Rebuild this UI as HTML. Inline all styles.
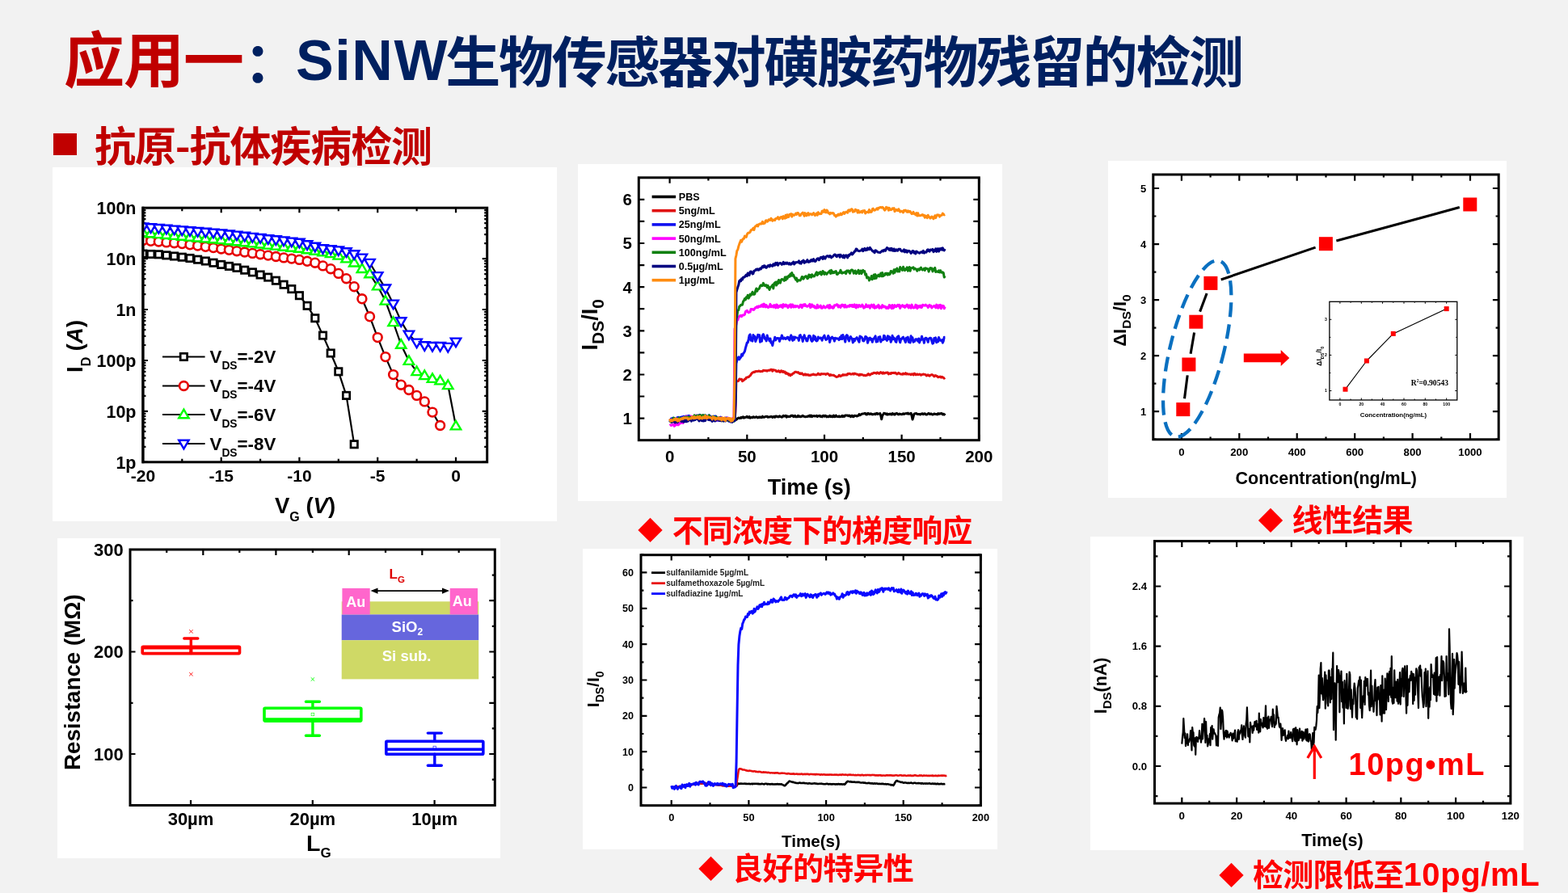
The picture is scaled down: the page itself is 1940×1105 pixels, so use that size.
<!DOCTYPE html>
<html><head><meta charset="utf-8">
<style>
html,body{margin:0;padding:0;}
body{width:1940px;height:1105px;background:#f2f2f2;position:relative;overflow:hidden;}
.t{position:absolute;white-space:nowrap;font-family:"Liberation Sans","Noto Sans CJK SC",sans-serif;font-weight:bold;line-height:1;}
.c{font-family:"Noto Sans CJK SC",sans-serif;}
.r{color:#ff0000;}
svg{position:absolute;left:0;top:0;}
svg text{font-family:"Liberation Sans","Noto Sans CJK SC",sans-serif;font-weight:bold;}
</style></head>
<body>
<svg width="1940" height="1105" viewBox="0 0 1940 1105">
<rect x="65" y="207" width="624" height="438" fill="#fff"/>
<rect x="715" y="203" width="525" height="417" fill="#fff"/>
<rect x="1371" y="199" width="493" height="417" fill="#fff"/>
<rect x="71" y="666" width="548" height="396" fill="#fff"/>
<rect x="721" y="679" width="513" height="372" fill="#fff"/>
<rect x="1349" y="664" width="536" height="388" fill="#fff"/>
<defs><clipPath id="c1"><rect x="177" y="250" width="433" height="330"/></clipPath></defs>
<path d="M176.9,257.2v6M176.9,571.8v-6M225.3,257.2v4M225.3,571.8v-4M273.7,257.2v6M273.7,571.8v-6M322.1,257.2v4M322.1,571.8v-4M370.4,257.2v6M370.4,571.8v-6M418.8,257.2v4M418.8,571.8v-4M467.2,257.2v6M467.2,571.8v-6M515.6,257.2v4M515.6,571.8v-4M564,257.2v6M564,571.8v-6M176.9,320.1h6M602.7,320.1h-6M176.9,301.2h3.5M602.7,301.2h-3.5M176.9,290.1h3.5M602.7,290.1h-3.5M176.9,282.2h3.5M602.7,282.2h-3.5M176.9,276.1h3.5M602.7,276.1h-3.5M176.9,271.2h3.5M602.7,271.2h-3.5M176.9,266.9h3.5M602.7,266.9h-3.5M176.9,263.3h3.5M602.7,263.3h-3.5M176.9,260.1h3.5M602.7,260.1h-3.5M176.9,383h6M602.7,383h-6M176.9,364.1h3.5M602.7,364.1h-3.5M176.9,353h3.5M602.7,353h-3.5M176.9,345.2h3.5M602.7,345.2h-3.5M176.9,339.1h3.5M602.7,339.1h-3.5M176.9,334.1h3.5M602.7,334.1h-3.5M176.9,329.9h3.5M602.7,329.9h-3.5M176.9,326.2h3.5M602.7,326.2h-3.5M176.9,323h3.5M602.7,323h-3.5M176.9,446h6M602.7,446h-6M176.9,427h3.5M602.7,427h-3.5M176.9,415.9h3.5M602.7,415.9h-3.5M176.9,408.1h3.5M602.7,408.1h-3.5M176.9,402h3.5M602.7,402h-3.5M176.9,397h3.5M602.7,397h-3.5M176.9,392.8h3.5M602.7,392.8h-3.5M176.9,389.1h3.5M602.7,389.1h-3.5M176.9,385.9h3.5M602.7,385.9h-3.5M176.9,508.9h6M602.7,508.9h-6M176.9,489.9h3.5M602.7,489.9h-3.5M176.9,478.9h3.5M602.7,478.9h-3.5M176.9,471h3.5M602.7,471h-3.5M176.9,464.9h3.5M602.7,464.9h-3.5M176.9,459.9h3.5M602.7,459.9h-3.5M176.9,455.7h3.5M602.7,455.7h-3.5M176.9,452.1h3.5M602.7,452.1h-3.5M176.9,448.8h3.5M602.7,448.8h-3.5M176.9,571.8h6M602.7,571.8h-6M176.9,552.9h3.5M602.7,552.9h-3.5M176.9,541.8h3.5M602.7,541.8h-3.5M176.9,533.9h3.5M602.7,533.9h-3.5M176.9,527.8h3.5M602.7,527.8h-3.5M176.9,522.8h3.5M602.7,522.8h-3.5M176.9,518.6h3.5M602.7,518.6h-3.5M176.9,515h3.5M602.7,515h-3.5M176.9,511.8h3.5M602.7,511.8h-3.5" stroke="#000" stroke-width="2.2" fill="none"/>
<rect x="176.9" y="257.2" width="425.8" height="314.6" fill="none" stroke="#000" stroke-width="3"/>
<text x="168.5" y="264.9" font-size="21.5" text-anchor="end" >100n</text>
<text x="168.5" y="327.8" font-size="21.5" text-anchor="end" >10n</text>
<text x="168.5" y="390.7" font-size="21.5" text-anchor="end" >1n</text>
<text x="168.5" y="453.7" font-size="21.5" text-anchor="end" >100p</text>
<text x="168.5" y="516.6" font-size="21.5" text-anchor="end" >10p</text>
<text x="168.5" y="579.5" font-size="21.5" text-anchor="end" >1p</text>
<text x="176.9" y="595.5" font-size="21" text-anchor="middle" >-20</text>
<text x="273.7" y="595.5" font-size="21" text-anchor="middle" >-15</text>
<text x="370.4" y="595.5" font-size="21" text-anchor="middle" >-10</text>
<text x="467.2" y="595.5" font-size="21" text-anchor="middle" >-5</text>
<text x="564" y="595.5" font-size="21" text-anchor="middle" >0</text>
<text x="340" y="634.7" font-size="27.5">V<tspan font-size="16" dy="10">G</tspan><tspan dy="-10"> (</tspan><tspan font-style="italic">V</tspan>)</text>
<text transform="translate(102,461) rotate(-90)" font-size="27.5">I<tspan font-size="16" dy="10">D</tspan><tspan dy="-10"> (</tspan><tspan font-style="italic">A</tspan>)</text>
<g clip-path="url(#c1)">
<polyline points="176.9,314.1 186.6,314.5 196.3,314.8 205.9,315.9 215.6,317 225.3,318.2 235,319.5 244.6,321.2 254.3,323 264,325.2 273.7,327.4 283.4,329.4 293,331.4 302.7,334.2 312.4,336.9 322.1,340 331.7,343.1 341.4,347.2 351.1,352.2 360.8,357.6 370.4,365.7 380.1,378.3 389.8,393.7 399.5,415.1 409.2,437 418.8,459.8 428.5,489.4 438.2,549.8" fill="none" stroke="#000" stroke-width="2.2" stroke-linejoin="round" />
<rect x="172.7" y="309.9" width="8.4" height="8.4" fill="#fff" stroke="#000" stroke-width="2.7"/>
<rect x="182.4" y="310.3" width="8.4" height="8.4" fill="#fff" stroke="#000" stroke-width="2.7"/>
<rect x="192.1" y="310.6" width="8.4" height="8.4" fill="#fff" stroke="#000" stroke-width="2.7"/>
<rect x="201.7" y="311.7" width="8.4" height="8.4" fill="#fff" stroke="#000" stroke-width="2.7"/>
<rect x="211.4" y="312.8" width="8.4" height="8.4" fill="#fff" stroke="#000" stroke-width="2.7"/>
<rect x="221.1" y="314" width="8.4" height="8.4" fill="#fff" stroke="#000" stroke-width="2.7"/>
<rect x="230.8" y="315.3" width="8.4" height="8.4" fill="#fff" stroke="#000" stroke-width="2.7"/>
<rect x="240.4" y="317" width="8.4" height="8.4" fill="#fff" stroke="#000" stroke-width="2.7"/>
<rect x="250.1" y="318.8" width="8.4" height="8.4" fill="#fff" stroke="#000" stroke-width="2.7"/>
<rect x="259.8" y="321" width="8.4" height="8.4" fill="#fff" stroke="#000" stroke-width="2.7"/>
<rect x="269.5" y="323.2" width="8.4" height="8.4" fill="#fff" stroke="#000" stroke-width="2.7"/>
<rect x="279.2" y="325.2" width="8.4" height="8.4" fill="#fff" stroke="#000" stroke-width="2.7"/>
<rect x="288.8" y="327.2" width="8.4" height="8.4" fill="#fff" stroke="#000" stroke-width="2.7"/>
<rect x="298.5" y="330" width="8.4" height="8.4" fill="#fff" stroke="#000" stroke-width="2.7"/>
<rect x="308.2" y="332.7" width="8.4" height="8.4" fill="#fff" stroke="#000" stroke-width="2.7"/>
<rect x="317.9" y="335.8" width="8.4" height="8.4" fill="#fff" stroke="#000" stroke-width="2.7"/>
<rect x="327.5" y="338.9" width="8.4" height="8.4" fill="#fff" stroke="#000" stroke-width="2.7"/>
<rect x="337.2" y="343" width="8.4" height="8.4" fill="#fff" stroke="#000" stroke-width="2.7"/>
<rect x="346.9" y="348" width="8.4" height="8.4" fill="#fff" stroke="#000" stroke-width="2.7"/>
<rect x="356.6" y="353.4" width="8.4" height="8.4" fill="#fff" stroke="#000" stroke-width="2.7"/>
<rect x="366.2" y="361.5" width="8.4" height="8.4" fill="#fff" stroke="#000" stroke-width="2.7"/>
<rect x="375.9" y="374.1" width="8.4" height="8.4" fill="#fff" stroke="#000" stroke-width="2.7"/>
<rect x="385.6" y="389.5" width="8.4" height="8.4" fill="#fff" stroke="#000" stroke-width="2.7"/>
<rect x="395.3" y="410.9" width="8.4" height="8.4" fill="#fff" stroke="#000" stroke-width="2.7"/>
<rect x="405" y="432.8" width="8.4" height="8.4" fill="#fff" stroke="#000" stroke-width="2.7"/>
<rect x="414.6" y="455.6" width="8.4" height="8.4" fill="#fff" stroke="#000" stroke-width="2.7"/>
<rect x="424.3" y="485.2" width="8.4" height="8.4" fill="#fff" stroke="#000" stroke-width="2.7"/>
<rect x="434" y="545.6" width="8.4" height="8.4" fill="#fff" stroke="#000" stroke-width="2.7"/>
<polyline points="176.9,297.5 186.6,298.3 196.3,299.1 205.9,299.9 215.6,300.7 225.3,301.6 235,302.8 244.6,304.1 254.3,305.3 264,306.6 273.7,308 283.4,309.3 293,310.7 302.7,312 312.4,313.4 322.1,314.7 331.7,316.1 341.4,317.5 351.1,318.9 360.8,320.1 370.4,321.4 380.1,323.3 389.8,325.2 399.5,328.9 409.2,332.7 418.8,338.4 428.5,344.7 438.2,354.7 447.9,369.8 457.5,391.8 467.2,417.6 476.9,441.6 486.6,463.6 496.2,476.2 505.9,482.5 515.6,489.4 525.3,496.9 535,510.1 544.6,526.5" fill="none" stroke="#000" stroke-width="2.2" stroke-linejoin="round" />
<circle cx="176.9" cy="297.5" r="5.4" fill="#fff" stroke="#e60000" stroke-width="2.6"/>
<circle cx="186.6" cy="298.3" r="5.4" fill="#fff" stroke="#e60000" stroke-width="2.6"/>
<circle cx="196.3" cy="299.1" r="5.4" fill="#fff" stroke="#e60000" stroke-width="2.6"/>
<circle cx="205.9" cy="299.9" r="5.4" fill="#fff" stroke="#e60000" stroke-width="2.6"/>
<circle cx="215.6" cy="300.7" r="5.4" fill="#fff" stroke="#e60000" stroke-width="2.6"/>
<circle cx="225.3" cy="301.6" r="5.4" fill="#fff" stroke="#e60000" stroke-width="2.6"/>
<circle cx="235" cy="302.8" r="5.4" fill="#fff" stroke="#e60000" stroke-width="2.6"/>
<circle cx="244.6" cy="304.1" r="5.4" fill="#fff" stroke="#e60000" stroke-width="2.6"/>
<circle cx="254.3" cy="305.3" r="5.4" fill="#fff" stroke="#e60000" stroke-width="2.6"/>
<circle cx="264" cy="306.6" r="5.4" fill="#fff" stroke="#e60000" stroke-width="2.6"/>
<circle cx="273.7" cy="308" r="5.4" fill="#fff" stroke="#e60000" stroke-width="2.6"/>
<circle cx="283.4" cy="309.3" r="5.4" fill="#fff" stroke="#e60000" stroke-width="2.6"/>
<circle cx="293" cy="310.7" r="5.4" fill="#fff" stroke="#e60000" stroke-width="2.6"/>
<circle cx="302.7" cy="312" r="5.4" fill="#fff" stroke="#e60000" stroke-width="2.6"/>
<circle cx="312.4" cy="313.4" r="5.4" fill="#fff" stroke="#e60000" stroke-width="2.6"/>
<circle cx="322.1" cy="314.7" r="5.4" fill="#fff" stroke="#e60000" stroke-width="2.6"/>
<circle cx="331.7" cy="316.1" r="5.4" fill="#fff" stroke="#e60000" stroke-width="2.6"/>
<circle cx="341.4" cy="317.5" r="5.4" fill="#fff" stroke="#e60000" stroke-width="2.6"/>
<circle cx="351.1" cy="318.9" r="5.4" fill="#fff" stroke="#e60000" stroke-width="2.6"/>
<circle cx="360.8" cy="320.1" r="5.4" fill="#fff" stroke="#e60000" stroke-width="2.6"/>
<circle cx="370.4" cy="321.4" r="5.4" fill="#fff" stroke="#e60000" stroke-width="2.6"/>
<circle cx="380.1" cy="323.3" r="5.4" fill="#fff" stroke="#e60000" stroke-width="2.6"/>
<circle cx="389.8" cy="325.2" r="5.4" fill="#fff" stroke="#e60000" stroke-width="2.6"/>
<circle cx="399.5" cy="328.9" r="5.4" fill="#fff" stroke="#e60000" stroke-width="2.6"/>
<circle cx="409.2" cy="332.7" r="5.4" fill="#fff" stroke="#e60000" stroke-width="2.6"/>
<circle cx="418.8" cy="338.4" r="5.4" fill="#fff" stroke="#e60000" stroke-width="2.6"/>
<circle cx="428.5" cy="344.7" r="5.4" fill="#fff" stroke="#e60000" stroke-width="2.6"/>
<circle cx="438.2" cy="354.7" r="5.4" fill="#fff" stroke="#e60000" stroke-width="2.6"/>
<circle cx="447.9" cy="369.8" r="5.4" fill="#fff" stroke="#e60000" stroke-width="2.6"/>
<circle cx="457.5" cy="391.8" r="5.4" fill="#fff" stroke="#e60000" stroke-width="2.6"/>
<circle cx="467.2" cy="417.6" r="5.4" fill="#fff" stroke="#e60000" stroke-width="2.6"/>
<circle cx="476.9" cy="441.6" r="5.4" fill="#fff" stroke="#e60000" stroke-width="2.6"/>
<circle cx="486.6" cy="463.6" r="5.4" fill="#fff" stroke="#e60000" stroke-width="2.6"/>
<circle cx="496.2" cy="476.2" r="5.4" fill="#fff" stroke="#e60000" stroke-width="2.6"/>
<circle cx="505.9" cy="482.5" r="5.4" fill="#fff" stroke="#e60000" stroke-width="2.6"/>
<circle cx="515.6" cy="489.4" r="5.4" fill="#fff" stroke="#e60000" stroke-width="2.6"/>
<circle cx="525.3" cy="496.9" r="5.4" fill="#fff" stroke="#e60000" stroke-width="2.6"/>
<circle cx="535" cy="510.1" r="5.4" fill="#fff" stroke="#e60000" stroke-width="2.6"/>
<circle cx="544.6" cy="526.5" r="5.4" fill="#fff" stroke="#e60000" stroke-width="2.6"/>
<polyline points="176.9,288 186.6,288.9 196.3,289.8 205.9,290.7 215.6,291.6 225.3,292.4 235,293.3 244.6,294.2 254.3,295.1 264,296 273.7,296.8 283.4,297.9 293,299 302.7,300 312.4,301.1 322.1,302.2 331.7,303.3 341.4,304.3 351.1,305.4 360.8,306.5 370.4,307.5 380.1,309 389.8,310.5 399.5,311.9 409.2,313.8 418.8,316.3 428.5,320.1 438.2,325.2 447.9,332.7 457.5,339 467.2,354.1 476.9,372.3 486.6,398.8 496.2,426.5 505.9,446.6 515.6,459.8 525.3,464.8 535,468.6 544.6,471.1 554.3,476.8 564,527.1" fill="none" stroke="#000" stroke-width="2.2" stroke-linejoin="round" />
<path d="M176.9,281.7L183.1,292.3H170.7Z" fill="#fff" stroke="#00ff00" stroke-width="2.4" stroke-linejoin="miter"/>
<path d="M186.6,282.6L192.8,293.2H180.4Z" fill="#fff" stroke="#00ff00" stroke-width="2.4" stroke-linejoin="miter"/>
<path d="M196.3,283.5L202.5,294.1H190.1Z" fill="#fff" stroke="#00ff00" stroke-width="2.4" stroke-linejoin="miter"/>
<path d="M205.9,284.4L212.1,295H199.7Z" fill="#fff" stroke="#00ff00" stroke-width="2.4" stroke-linejoin="miter"/>
<path d="M215.6,285.3L221.8,295.9H209.4Z" fill="#fff" stroke="#00ff00" stroke-width="2.4" stroke-linejoin="miter"/>
<path d="M225.3,286.1L231.5,296.7H219.1Z" fill="#fff" stroke="#00ff00" stroke-width="2.4" stroke-linejoin="miter"/>
<path d="M235,287L241.2,297.6H228.8Z" fill="#fff" stroke="#00ff00" stroke-width="2.4" stroke-linejoin="miter"/>
<path d="M244.6,287.9L250.8,298.5H238.4Z" fill="#fff" stroke="#00ff00" stroke-width="2.4" stroke-linejoin="miter"/>
<path d="M254.3,288.8L260.5,299.4H248.1Z" fill="#fff" stroke="#00ff00" stroke-width="2.4" stroke-linejoin="miter"/>
<path d="M264,289.7L270.2,300.3H257.8Z" fill="#fff" stroke="#00ff00" stroke-width="2.4" stroke-linejoin="miter"/>
<path d="M273.7,290.5L279.9,301.1H267.5Z" fill="#fff" stroke="#00ff00" stroke-width="2.4" stroke-linejoin="miter"/>
<path d="M283.4,291.6L289.6,302.2H277.2Z" fill="#fff" stroke="#00ff00" stroke-width="2.4" stroke-linejoin="miter"/>
<path d="M293,292.7L299.2,303.3H286.8Z" fill="#fff" stroke="#00ff00" stroke-width="2.4" stroke-linejoin="miter"/>
<path d="M302.7,293.7L308.9,304.3H296.5Z" fill="#fff" stroke="#00ff00" stroke-width="2.4" stroke-linejoin="miter"/>
<path d="M312.4,294.8L318.6,305.4H306.2Z" fill="#fff" stroke="#00ff00" stroke-width="2.4" stroke-linejoin="miter"/>
<path d="M322.1,295.9L328.3,306.5H315.9Z" fill="#fff" stroke="#00ff00" stroke-width="2.4" stroke-linejoin="miter"/>
<path d="M331.7,297L337.9,307.6H325.5Z" fill="#fff" stroke="#00ff00" stroke-width="2.4" stroke-linejoin="miter"/>
<path d="M341.4,298L347.6,308.6H335.2Z" fill="#fff" stroke="#00ff00" stroke-width="2.4" stroke-linejoin="miter"/>
<path d="M351.1,299.1L357.3,309.7H344.9Z" fill="#fff" stroke="#00ff00" stroke-width="2.4" stroke-linejoin="miter"/>
<path d="M360.8,300.2L367,310.8H354.6Z" fill="#fff" stroke="#00ff00" stroke-width="2.4" stroke-linejoin="miter"/>
<path d="M370.4,301.2L376.6,311.8H364.2Z" fill="#fff" stroke="#00ff00" stroke-width="2.4" stroke-linejoin="miter"/>
<path d="M380.1,302.7L386.3,313.3H373.9Z" fill="#fff" stroke="#00ff00" stroke-width="2.4" stroke-linejoin="miter"/>
<path d="M389.8,304.2L396,314.8H383.6Z" fill="#fff" stroke="#00ff00" stroke-width="2.4" stroke-linejoin="miter"/>
<path d="M399.5,305.6L405.7,316.2H393.3Z" fill="#fff" stroke="#00ff00" stroke-width="2.4" stroke-linejoin="miter"/>
<path d="M409.2,307.5L415.4,318.1H403Z" fill="#fff" stroke="#00ff00" stroke-width="2.4" stroke-linejoin="miter"/>
<path d="M418.8,310L425,320.6H412.6Z" fill="#fff" stroke="#00ff00" stroke-width="2.4" stroke-linejoin="miter"/>
<path d="M428.5,313.8L434.7,324.4H422.3Z" fill="#fff" stroke="#00ff00" stroke-width="2.4" stroke-linejoin="miter"/>
<path d="M438.2,318.9L444.4,329.5H432Z" fill="#fff" stroke="#00ff00" stroke-width="2.4" stroke-linejoin="miter"/>
<path d="M447.9,326.4L454.1,337H441.7Z" fill="#fff" stroke="#00ff00" stroke-width="2.4" stroke-linejoin="miter"/>
<path d="M457.5,332.7L463.7,343.3H451.3Z" fill="#fff" stroke="#00ff00" stroke-width="2.4" stroke-linejoin="miter"/>
<path d="M467.2,347.8L473.4,358.4H461Z" fill="#fff" stroke="#00ff00" stroke-width="2.4" stroke-linejoin="miter"/>
<path d="M476.9,366L483.1,376.6H470.7Z" fill="#fff" stroke="#00ff00" stroke-width="2.4" stroke-linejoin="miter"/>
<path d="M486.6,392.5L492.8,403.1H480.4Z" fill="#fff" stroke="#00ff00" stroke-width="2.4" stroke-linejoin="miter"/>
<path d="M496.2,420.2L502.4,430.8H490.1Z" fill="#fff" stroke="#00ff00" stroke-width="2.4" stroke-linejoin="miter"/>
<path d="M505.9,440.3L512.1,450.9H499.7Z" fill="#fff" stroke="#00ff00" stroke-width="2.4" stroke-linejoin="miter"/>
<path d="M515.6,453.5L521.8,464.1H509.4Z" fill="#fff" stroke="#00ff00" stroke-width="2.4" stroke-linejoin="miter"/>
<path d="M525.3,458.5L531.5,469.1H519.1Z" fill="#fff" stroke="#00ff00" stroke-width="2.4" stroke-linejoin="miter"/>
<path d="M535,462.3L541.2,472.9H528.8Z" fill="#fff" stroke="#00ff00" stroke-width="2.4" stroke-linejoin="miter"/>
<path d="M544.6,464.8L550.8,475.4H538.4Z" fill="#fff" stroke="#00ff00" stroke-width="2.4" stroke-linejoin="miter"/>
<path d="M554.3,470.5L560.5,481.1H548.1Z" fill="#fff" stroke="#00ff00" stroke-width="2.4" stroke-linejoin="miter"/>
<path d="M564,520.8L570.2,531.4H557.8Z" fill="#fff" stroke="#00ff00" stroke-width="2.4" stroke-linejoin="miter"/>
<polyline points="176.9,280.7 186.6,281.5 196.3,282.3 205.9,283.1 215.6,283.9 225.3,284.7 235,285.5 244.6,286.3 254.3,287.1 264,287.9 273.7,288.7 283.4,289.8 293,290.9 302.7,292.1 312.4,293.2 322.1,294.3 331.7,295.5 341.4,296.6 351.1,297.7 360.8,298.9 370.4,300 380.1,302.5 389.8,305 399.5,307.5 409.2,308.5 418.8,309.7 428.5,311.6 438.2,314.5 447.9,318.9 457.5,325.2 467.2,341.4 476.9,356.8 486.6,375.9 496.2,397.5 505.9,413.9 515.6,423.9 525.3,427.5 535,428.3 544.6,428.3 554.3,429.2 564,422.9" fill="none" stroke="#000" stroke-width="2.2" stroke-linejoin="round" />
<path d="M176.9,287L183.1,276.4H170.7Z" fill="#fff" stroke="#0000ff" stroke-width="2.4" stroke-linejoin="miter"/>
<path d="M186.6,287.8L192.8,277.2H180.4Z" fill="#fff" stroke="#0000ff" stroke-width="2.4" stroke-linejoin="miter"/>
<path d="M196.3,288.6L202.5,278H190.1Z" fill="#fff" stroke="#0000ff" stroke-width="2.4" stroke-linejoin="miter"/>
<path d="M205.9,289.4L212.1,278.8H199.7Z" fill="#fff" stroke="#0000ff" stroke-width="2.4" stroke-linejoin="miter"/>
<path d="M215.6,290.2L221.8,279.6H209.4Z" fill="#fff" stroke="#0000ff" stroke-width="2.4" stroke-linejoin="miter"/>
<path d="M225.3,291L231.5,280.4H219.1Z" fill="#fff" stroke="#0000ff" stroke-width="2.4" stroke-linejoin="miter"/>
<path d="M235,291.8L241.2,281.2H228.8Z" fill="#fff" stroke="#0000ff" stroke-width="2.4" stroke-linejoin="miter"/>
<path d="M244.6,292.6L250.8,282H238.4Z" fill="#fff" stroke="#0000ff" stroke-width="2.4" stroke-linejoin="miter"/>
<path d="M254.3,293.4L260.5,282.8H248.1Z" fill="#fff" stroke="#0000ff" stroke-width="2.4" stroke-linejoin="miter"/>
<path d="M264,294.2L270.2,283.6H257.8Z" fill="#fff" stroke="#0000ff" stroke-width="2.4" stroke-linejoin="miter"/>
<path d="M273.7,295L279.9,284.4H267.5Z" fill="#fff" stroke="#0000ff" stroke-width="2.4" stroke-linejoin="miter"/>
<path d="M283.4,296.1L289.6,285.5H277.2Z" fill="#fff" stroke="#0000ff" stroke-width="2.4" stroke-linejoin="miter"/>
<path d="M293,297.2L299.2,286.6H286.8Z" fill="#fff" stroke="#0000ff" stroke-width="2.4" stroke-linejoin="miter"/>
<path d="M302.7,298.4L308.9,287.8H296.5Z" fill="#fff" stroke="#0000ff" stroke-width="2.4" stroke-linejoin="miter"/>
<path d="M312.4,299.5L318.6,288.9H306.2Z" fill="#fff" stroke="#0000ff" stroke-width="2.4" stroke-linejoin="miter"/>
<path d="M322.1,300.6L328.3,290H315.9Z" fill="#fff" stroke="#0000ff" stroke-width="2.4" stroke-linejoin="miter"/>
<path d="M331.7,301.8L337.9,291.2H325.5Z" fill="#fff" stroke="#0000ff" stroke-width="2.4" stroke-linejoin="miter"/>
<path d="M341.4,302.9L347.6,292.3H335.2Z" fill="#fff" stroke="#0000ff" stroke-width="2.4" stroke-linejoin="miter"/>
<path d="M351.1,304L357.3,293.4H344.9Z" fill="#fff" stroke="#0000ff" stroke-width="2.4" stroke-linejoin="miter"/>
<path d="M360.8,305.2L367,294.6H354.6Z" fill="#fff" stroke="#0000ff" stroke-width="2.4" stroke-linejoin="miter"/>
<path d="M370.4,306.3L376.6,295.7H364.2Z" fill="#fff" stroke="#0000ff" stroke-width="2.4" stroke-linejoin="miter"/>
<path d="M380.1,308.8L386.3,298.2H373.9Z" fill="#fff" stroke="#0000ff" stroke-width="2.4" stroke-linejoin="miter"/>
<path d="M389.8,311.3L396,300.7H383.6Z" fill="#fff" stroke="#0000ff" stroke-width="2.4" stroke-linejoin="miter"/>
<path d="M399.5,313.8L405.7,303.2H393.3Z" fill="#fff" stroke="#0000ff" stroke-width="2.4" stroke-linejoin="miter"/>
<path d="M409.2,314.8L415.4,304.2H403Z" fill="#fff" stroke="#0000ff" stroke-width="2.4" stroke-linejoin="miter"/>
<path d="M418.8,316L425,305.4H412.6Z" fill="#fff" stroke="#0000ff" stroke-width="2.4" stroke-linejoin="miter"/>
<path d="M428.5,317.9L434.7,307.3H422.3Z" fill="#fff" stroke="#0000ff" stroke-width="2.4" stroke-linejoin="miter"/>
<path d="M438.2,320.8L444.4,310.2H432Z" fill="#fff" stroke="#0000ff" stroke-width="2.4" stroke-linejoin="miter"/>
<path d="M447.9,325.2L454.1,314.6H441.7Z" fill="#fff" stroke="#0000ff" stroke-width="2.4" stroke-linejoin="miter"/>
<path d="M457.5,331.5L463.7,320.9H451.3Z" fill="#fff" stroke="#0000ff" stroke-width="2.4" stroke-linejoin="miter"/>
<path d="M467.2,347.7L473.4,337.1H461Z" fill="#fff" stroke="#0000ff" stroke-width="2.4" stroke-linejoin="miter"/>
<path d="M476.9,363.1L483.1,352.5H470.7Z" fill="#fff" stroke="#0000ff" stroke-width="2.4" stroke-linejoin="miter"/>
<path d="M486.6,382.2L492.8,371.6H480.4Z" fill="#fff" stroke="#0000ff" stroke-width="2.4" stroke-linejoin="miter"/>
<path d="M496.2,403.8L502.4,393.2H490.1Z" fill="#fff" stroke="#0000ff" stroke-width="2.4" stroke-linejoin="miter"/>
<path d="M505.9,420.2L512.1,409.6H499.7Z" fill="#fff" stroke="#0000ff" stroke-width="2.4" stroke-linejoin="miter"/>
<path d="M515.6,430.2L521.8,419.6H509.4Z" fill="#fff" stroke="#0000ff" stroke-width="2.4" stroke-linejoin="miter"/>
<path d="M525.3,433.8L531.5,423.2H519.1Z" fill="#fff" stroke="#0000ff" stroke-width="2.4" stroke-linejoin="miter"/>
<path d="M535,434.6L541.2,424H528.8Z" fill="#fff" stroke="#0000ff" stroke-width="2.4" stroke-linejoin="miter"/>
<path d="M544.6,434.6L550.8,424H538.4Z" fill="#fff" stroke="#0000ff" stroke-width="2.4" stroke-linejoin="miter"/>
<path d="M554.3,435.5L560.5,424.9H548.1Z" fill="#fff" stroke="#0000ff" stroke-width="2.4" stroke-linejoin="miter"/>
<path d="M564,429.2L570.2,418.6H557.8Z" fill="#fff" stroke="#0000ff" stroke-width="2.4" stroke-linejoin="miter"/>
</g>
<path d="M176.9,255.7V573.3" stroke="#000" stroke-width="3"/>
<path d="M201,441.5H253.6" stroke="#000" stroke-width="2.2"/>
<rect x="223.2" y="437.3" width="8.4" height="8.4" fill="#fff" stroke="#000" stroke-width="2.7"/>
<text x="259.5" y="449.4" font-size="22.3">V<tspan font-size="13.8" dy="8">DS</tspan><tspan dy="-8">=-2V</tspan></text>
<path d="M201,477.5H253.6" stroke="#000" stroke-width="2.2"/>
<circle cx="227.4" cy="477.5" r="5.4" fill="#fff" stroke="#e60000" stroke-width="2.6"/>
<text x="259.5" y="485.4" font-size="22.3">V<tspan font-size="13.8" dy="8">DS</tspan><tspan dy="-8">=-4V</tspan></text>
<path d="M201,513H253.6" stroke="#000" stroke-width="2.2"/>
<path d="M227.4,506.7L233.6,517.3H221.2Z" fill="#fff" stroke="#00ff00" stroke-width="2.4" stroke-linejoin="miter"/>
<text x="259.5" y="520.9" font-size="22.3">V<tspan font-size="13.8" dy="8">DS</tspan><tspan dy="-8">=-6V</tspan></text>
<path d="M201,549H253.6" stroke="#000" stroke-width="2.2"/>
<path d="M227.4,555.3L233.6,544.7H221.2Z" fill="#fff" stroke="#0000ff" stroke-width="2.4" stroke-linejoin="miter"/>
<text x="259.5" y="556.9" font-size="22.3">V<tspan font-size="13.8" dy="8">DS</tspan><tspan dy="-8">=-8V</tspan></text>
<path d="M828.6,219.8v7M828.6,544.7v-7M924.3,219.8v7M924.3,544.7v-7M1020,219.8v7M1020,544.7v-7M1115.6,219.8v7M1115.6,544.7v-7M1211.3,219.8v7M1211.3,544.7v-7" stroke="#000" stroke-width="2.2" fill="none"/>
<path d="M876.4,219.8v3.6M876.4,544.7v-3.6M972.1,219.8v3.6M972.1,544.7v-3.6M1067.8,219.8v3.6M1067.8,544.7v-3.6M1163.5,219.8v3.6M1163.5,544.7v-3.6" stroke="#000" stroke-width="2.2" fill="none"/>
<path d="M790.3,517.6h7M1211.3,517.6h-7M790.3,490.5h7M1211.3,490.5h-7M790.3,463.5h7M1211.3,463.5h-7M790.3,436.4h7M1211.3,436.4h-7M790.3,409.3h7M1211.3,409.3h-7M790.3,382.2h7M1211.3,382.2h-7M790.3,355.2h7M1211.3,355.2h-7M790.3,328.1h7M1211.3,328.1h-7M790.3,301h7M1211.3,301h-7M790.3,273.9h7M1211.3,273.9h-7M790.3,246.9h7M1211.3,246.9h-7" stroke="#000" stroke-width="2.2" fill="none"/>
<rect x="790.3" y="219.8" width="421" height="324.9" fill="none" stroke="#000" stroke-width="3"/>
<text x="782" y="524.9" font-size="20.5" text-anchor="end" >1</text>
<text x="782" y="470.8" font-size="20.5" text-anchor="end" >2</text>
<text x="782" y="416.6" font-size="20.5" text-anchor="end" >3</text>
<text x="782" y="362.5" font-size="20.5" text-anchor="end" >4</text>
<text x="782" y="308.3" font-size="20.5" text-anchor="end" >5</text>
<text x="782" y="254.2" font-size="20.5" text-anchor="end" >6</text>
<text x="828.6" y="571.9" font-size="20.5" text-anchor="middle" >0</text>
<text x="924.3" y="571.9" font-size="20.5" text-anchor="middle" >50</text>
<text x="1020" y="571.9" font-size="20.5" text-anchor="middle" >100</text>
<text x="1115.6" y="571.9" font-size="20.5" text-anchor="middle" >150</text>
<text x="1211.3" y="571.9" font-size="20.5" text-anchor="middle" >200</text>
<text x="1001.3" y="611.7" font-size="27" text-anchor="middle" >Time (s)</text>
<text transform="translate(739.4,433.5) rotate(-90)" font-size="27">I<tspan font-size="21" dy="7.7">DS</tspan><tspan dy="-7.7">/I</tspan><tspan font-size="21" dy="7.7">0</tspan></text>
<polyline points="828.6,520.5 829.6,521.2 830.5,519.5 831.5,520.4 832.4,520.1 833.4,520.4 834.3,519.5 835.3,520.2 836.3,520.2 837.2,519.5 838.2,519.1 839.1,519.7 840.1,518.8 841,519 842,517.7 843,519.2 843.9,517.3 844.9,518.3 845.8,517.9 846.8,518.4 847.7,517.2 848.7,518.1 849.6,517.7 850.6,518.2 851.6,517.4 852.5,516.1 853.5,516 854.4,516.3 855.4,517.6 856.3,515.7 857.3,515.7 858.3,515.8 859.2,516.8 860.2,516.9 861.1,516.1 862.1,515.3 863,515.9 864,515.6 865,516.6 865.9,516.1 866.9,515.8 867.8,515.6 868.8,515.6 869.7,516.8 870.7,515.6 871.7,516.9 872.6,515.8 873.6,516.3 874.5,517.1 875.5,516.3 876.4,516.5 877.4,515.7 878.4,517.6 879.3,517.5 880.3,516 881.2,516.4 882.2,517.8 883.1,517.8 884.1,517.3 885,518.1 886,517.9 887,518.5 887.9,517.3 888.9,518.7 889.8,517 890.8,517.2 891.7,517.6 892.7,517.7 893.7,518.6 894.6,518.1 895.6,518 896.5,518.7 897.5,519.6 898.4,518.6 899.4,519.2 900.4,518.8 901.3,519.3 902.3,518.3 903.2,519.9 904.2,518.9 905.1,519.1 906.1,519.5 907.1,520.5 908,520.4 909,518.6 909.9,519.7 910.9,519.3 911.8,518.6 912.8,517.5 913.8,517 914.7,517.5 915.7,517.5 916.6,516.5 917.6,517.1 918.5,516.2 919.5,515.8 920.4,517.2 921.4,516.4 922.4,516.6 923.3,515.8 924.3,515.4 925.2,516.5 926.2,516.8 927.1,515.5 928.1,517.2 929.1,516.6 930,516.4 931,516.8 931.9,515.8 932.9,516.1 933.8,516.6 934.8,516.3 935.8,515.7 936.7,516.4 937.7,516.9 938.6,516.1 939.6,516.6 940.5,515.8 941.5,516.6 942.5,516.7 943.4,515.2 944.4,516.3 945.3,516.3 946.3,515.8 947.2,515.5 948.2,515.5 949.2,515.2 950.1,516.3 951.1,515.9 952,516 953,515.7 953.9,515.5 954.9,515.4 955.8,516.5 956.8,515.8 957.8,515.2 958.7,516.4 959.7,515 960.6,515.1 961.6,515.7 962.5,515.5 963.5,515.9 964.5,514.9 965.4,515.4 966.4,515.8 967.3,516.2 968.3,515.6 969.2,514.4 970.2,514.9 971.2,514.9 972.1,514.3 973.1,516.1 974,514.9 975,515.7 975.9,515.3 976.9,515.6 977.9,515.3 978.8,514.2 979.8,514.5 980.7,514.2 981.7,515.7 982.6,515.3 983.6,514.3 984.6,515.8 985.5,515.5 986.5,515.7 987.4,514.3 988.4,515.4 989.3,515 990.3,515.8 991.2,515.6 992.2,514.9 993.2,514.3 994.1,515.2 995.1,515.2 996,515.8 997,515.7 997.9,515.6 998.9,515.5 999.9,514.8 1000.8,515.2 1001.8,514 1002.7,515.3 1003.7,514.2 1004.6,515.7 1005.6,514.8 1006.6,514.8 1007.5,514.6 1008.5,515.1 1009.4,514.8 1010.4,514.4 1011.3,515.6 1012.3,514.8 1013.3,514.7 1014.2,514.3 1015.2,515.5 1016.1,515.1 1017.1,515.8 1018,514.6 1019,514.2 1020,515.2 1020.9,514.3 1021.9,514.6 1022.8,515.8 1023.8,515 1024.7,515.8 1025.7,515.3 1026.6,514.3 1027.6,515.6 1028.6,514.8 1029.5,515.8 1030.5,515.7 1031.4,514 1032.4,515.7 1033.3,515.5 1034.3,514 1035.3,515.3 1036.2,515.4 1037.2,515.7 1038.1,514.9 1039.1,515.8 1040,515.4 1041,515.4 1042,514.4 1042.9,515.6 1043.9,514.7 1044.8,515.4 1045.8,513.9 1046.7,513.9 1047.7,514.1 1048.7,514.1 1049.6,514.8 1050.6,514.1 1051.5,514.6 1052.5,515.6 1053.4,514.4 1054.4,514.2 1055.3,515.8 1056.3,515.5 1057.3,514.3 1058.2,514.4 1059.2,514.5 1060.1,515.1 1061.1,514.5 1062,514.3 1063,512.6 1064,513.8 1064.9,513.3 1065.9,512.4 1066.8,512.1 1067.8,512.1 1068.7,511.9 1069.7,511.5 1070.7,511.4 1071.6,512.9 1072.6,513.1 1073.5,511.4 1074.5,511.4 1075.4,512.4 1076.4,512.4 1077.4,511.8 1078.3,512.3 1079.3,512.9 1080.2,512.7 1081.2,512.6 1082.1,512.1 1083.1,512.8 1084.1,511.7 1085,511.3 1086,512.4 1086.9,512 1087.9,511.9 1088.8,511.6 1089.8,514.4 1090.7,518.7 1091.7,514.2 1092.7,513.1 1093.6,511.3 1094.6,511.4 1095.5,511.8 1096.5,512.8 1097.4,511.9 1098.4,513.1 1099.4,512.4 1100.3,512.7 1101.3,512.1 1102.2,512.7 1103.2,513 1104.1,511.6 1105.1,512.7 1106.1,512.1 1107,513.1 1108,512.1 1108.9,511.6 1109.9,511.6 1110.8,512.5 1111.8,512.9 1112.8,512 1113.7,512.6 1114.7,512.6 1115.6,512.8 1116.6,512.4 1117.5,511.8 1118.5,512.4 1119.5,511.9 1120.4,511.7 1121.4,511.6 1122.3,512 1123.3,511.2 1124.2,512.2 1125.2,512.1 1126.1,511.9 1127.1,511.3 1128.1,514.6 1129,519 1130,515.7 1130.9,512.3 1131.9,511.8 1132.8,511.7 1133.8,511.5 1134.8,512.6 1135.7,512.5 1136.7,512.4 1137.6,512.4 1138.6,513 1139.5,512.4 1140.5,511.9 1141.5,511.7 1142.4,512.7 1143.4,511.9 1144.3,511.7 1145.3,512.9 1146.2,513.1 1147.2,512.8 1148.2,511.8 1149.1,511.4 1150.1,512.4 1151,512.6 1152,511.9 1152.9,512.5 1153.9,513.1 1154.9,512.7 1155.8,512 1156.8,512.3 1157.7,512.5 1158.7,512.4 1159.6,512.9 1160.6,511.7 1161.5,512.4 1162.5,511.8 1163.5,512.1 1164.4,511.4 1165.4,511.6 1166.3,512.9 1167.3,512.3 1168.2,513.1 1169.2,511.7" fill="none" stroke="#000000" stroke-width="3.0" stroke-linejoin="round" />
<polyline points="828.6,520.8 829.6,519.3 830.5,520.6 831.5,520 832.4,519.9 833.4,519.1 834.3,519.5 835.3,518.8 836.3,519.8 837.2,520.1 838.2,519.8 839.1,519.9 840.1,518.5 841,518.4 842,518.1 843,517.9 843.9,519 844.9,518.9 845.8,517.6 846.8,518.7 847.7,517.9 848.7,517.3 849.6,517.1 850.6,517 851.6,516.3 852.5,516.1 853.5,517.3 854.4,517.1 855.4,517.6 856.3,517.3 857.3,516.6 858.3,516 859.2,516.7 860.2,516.9 861.1,515.6 862.1,515.7 863,516 864,516.8 865,516.7 865.9,516.6 866.9,515.5 867.8,515.4 868.8,517.1 869.7,515.4 870.7,515.5 871.7,515.8 872.6,516.9 873.6,515.5 874.5,515.8 875.5,517.2 876.4,517.4 877.4,516.9 878.4,516.6 879.3,517.7 880.3,516 881.2,516.7 882.2,517.1 883.1,517.2 884.1,518.1 885,516.9 886,517.1 887,518.6 887.9,517.1 888.9,518.1 889.8,517.1 890.8,518.3 891.7,518.7 892.7,518.8 893.7,518.7 894.6,519.3 895.6,519.2 896.5,518.7 897.5,518.6 898.4,518.7 899.4,519.6 900.4,519.9 901.3,519.8 902.3,518.4 903.2,520 904.2,519 905.1,519.4 906.1,519.4 907.1,518.8 908,520.2 909,519.1 909.9,509.8 910.9,472.3 911.8,471.7 912.8,471.5 913.8,471.2 914.7,469.1 915.7,469.1 916.6,469.5 917.6,469.3 918.5,471.6 919.5,470.9 920.4,470.3 921.4,469.1 922.4,469.1 923.3,467.3 924.3,467 925.2,466.7 926.2,466.6 927.1,465.5 928.1,465 929.1,463.4 930,462 931,461.2 931.9,460.6 932.9,460.3 933.8,460.5 934.8,459.4 935.8,459.5 936.7,459.5 937.7,459.6 938.6,459 939.6,459.3 940.5,459.8 941.5,459.5 942.5,459.5 943.4,459.5 944.4,458.2 945.3,458.4 946.3,458.5 947.2,458.7 948.2,458.6 949.2,459.2 950.1,458.4 951.1,458.1 952,458.4 953,458 953.9,457.2 954.9,457.5 955.8,459.2 956.8,457.6 957.8,458.1 958.7,458.1 959.7,458.3 960.6,459.6 961.6,459.8 962.5,459 963.5,458.7 964.5,460.3 965.4,460.5 966.4,458.8 967.3,459 968.3,460.4 969.2,459.4 970.2,460.6 971.2,460 972.1,462.1 973.1,461.4 974,462.6 975,462.3 975.9,464 976.9,463.2 977.9,464.8 978.8,463.5 979.8,463.6 980.7,462.3 981.7,462.1 982.6,461.2 983.6,460.3 984.6,460.2 985.5,460.5 986.5,461 987.4,460.6 988.4,461.7 989.3,462.5 990.3,461.7 991.2,462.6 992.2,461.8 993.2,463.1 994.1,464.1 995.1,463.8 996,462.8 997,464 997.9,463.3 998.9,464.1 999.9,463.6 1000.8,464.5 1001.8,464.2 1002.7,464.4 1003.7,463.7 1004.6,463.8 1005.6,463.3 1006.6,463 1007.5,463.8 1008.5,463.6 1009.4,464 1010.4,463.8 1011.3,463.2 1012.3,462.1 1013.3,463.4 1014.2,463 1015.2,463.7 1016.1,462.5 1017.1,462.7 1018,462.8 1019,462.6 1020,462.8 1020.9,462.7 1021.9,463.4 1022.8,462.6 1023.8,462.3 1024.7,462.6 1025.7,463.8 1026.6,464.7 1027.6,463.5 1028.6,464.3 1029.5,464.3 1030.5,464.3 1031.4,464.2 1032.4,465 1033.3,465.3 1034.3,466.1 1035.3,466.5 1036.2,466.1 1037.2,465.9 1038.1,464.2 1039.1,464.8 1040,465.6 1041,464.9 1042,464.5 1042.9,463.5 1043.9,464.2 1044.8,463.7 1045.8,464.1 1046.7,463.8 1047.7,464.1 1048.7,462.5 1049.6,462.9 1050.6,462.3 1051.5,462.4 1052.5,463.2 1053.4,462.9 1054.4,463 1055.3,462.2 1056.3,463.1 1057.3,462.1 1058.2,462.5 1059.2,462.8 1060.1,463.3 1061.1,463.1 1062,463.9 1063,464.5 1064,463.1 1064.9,464 1065.9,463.2 1066.8,463.7 1067.8,464.1 1068.7,464.6 1069.7,464.2 1070.7,464.8 1071.6,464.4 1072.6,464.3 1073.5,463.1 1074.5,462.6 1075.4,464.1 1076.4,464 1077.4,463.2 1078.3,462.3 1079.3,462.6 1080.2,461.8 1081.2,461.2 1082.1,461.6 1083.1,461.4 1084.1,462.2 1085,461.1 1086,461.1 1086.9,462 1087.9,462.3 1088.8,461.1 1089.8,460.5 1090.7,461.3 1091.7,462.2 1092.7,460.9 1093.6,462 1094.6,462 1095.5,461.2 1096.5,461.3 1097.4,461 1098.4,461.1 1099.4,462.9 1100.3,462.5 1101.3,461.8 1102.2,462.5 1103.2,461.3 1104.1,461.6 1105.1,461.6 1106.1,461.2 1107,461.7 1108,461.2 1108.9,462.2 1109.9,462.9 1110.8,462.2 1111.8,461.4 1112.8,462.1 1113.7,462.7 1114.7,463.1 1115.6,463.1 1116.6,463.2 1117.5,462.1 1118.5,462.9 1119.5,462.7 1120.4,461.7 1121.4,463 1122.3,462.4 1123.3,463.1 1124.2,463.1 1125.2,463.1 1126.1,463.1 1127.1,463.8 1128.1,462.8 1129,463 1130,463.9 1130.9,462.3 1131.9,462.3 1132.8,463.8 1133.8,463.7 1134.8,462.9 1135.7,463.5 1136.7,463.4 1137.6,463.1 1138.6,463.2 1139.5,464.2 1140.5,463.8 1141.5,463.2 1142.4,463.1 1143.4,463.2 1144.3,463.4 1145.3,463.7 1146.2,465 1147.2,464.4 1148.2,463.8 1149.1,464.8 1150.1,465.2 1151,464.2 1152,463.9 1152.9,463.5 1153.9,464.1 1154.9,464.8 1155.8,465.9 1156.8,464.8 1157.7,464.6 1158.7,465.5 1159.6,465.6 1160.6,466.7 1161.5,466.5 1162.5,466.2 1163.5,466 1164.4,467.1 1165.4,466.3 1166.3,467 1167.3,467.3 1168.2,468.2 1169.2,467.4" fill="none" stroke="#e01010" stroke-width="3.0" stroke-linejoin="round" />
<polyline points="828.6,522.4 829.6,520.7 830.5,517.9 831.5,517.9 832.4,517.3 833.4,521.5 834.3,517.4 835.3,519.7 836.3,521.3 837.2,517.1 838.2,516.7 839.1,516.4 840.1,519.7 841,520.3 842,516.2 843,517.2 843.9,515.8 844.9,516.8 845.8,515.2 846.8,516.5 847.7,515.8 848.7,515.1 849.6,517.8 850.6,514.9 851.6,517.6 852.5,514.4 853.5,516.7 854.4,516 855.4,519.5 856.3,517.5 857.3,517.7 858.3,519.1 859.2,517.3 860.2,517.5 861.1,518.2 862.1,517.4 863,514 864,517.7 865,515 865.9,513.3 866.9,519 867.8,515 868.8,518.3 869.7,518.1 870.7,517.4 871.7,514 872.6,514.2 873.6,518.7 874.5,514.8 875.5,518.8 876.4,517.3 877.4,513.8 878.4,514.6 879.3,519 880.3,516.5 881.2,517.5 882.2,516.1 883.1,515.2 884.1,517 885,515 886,515.3 887,519.5 887.9,520.3 888.9,519.6 889.8,517.9 890.8,516.9 891.7,516.1 892.7,516.9 893.7,517.5 894.6,517.9 895.6,517.6 896.5,519.2 897.5,517.8 898.4,516.9 899.4,516.9 900.4,517.8 901.3,518.1 902.3,521.6 903.2,520.3 904.2,519.6 905.1,520.6 906.1,521.3 907.1,520.4 908,517.9 909,520.8 909.9,502.3 910.9,449.8 911.8,446.2 912.8,443.3 913.8,441.8 914.7,444.8 915.7,443 916.6,442.1 917.6,438.4 918.5,440.1 919.5,437.5 920.4,436.5 921.4,434.8 922.4,430.6 923.3,427.5 924.3,424 925.2,423.9 926.2,419.6 927.1,415 928.1,413.9 929.1,421.2 930,418.6 931,422.1 931.9,414.4 932.9,418.2 933.8,416.2 934.8,422.5 935.8,419.8 936.7,417.9 937.7,414.3 938.6,415.5 939.6,414.7 940.5,423.3 941.5,418.6 942.5,422.3 943.4,415 944.4,413.6 945.3,416 946.3,419.2 947.2,419.2 948.2,421.9 949.2,415 950.1,418.8 951.1,418.7 952,421.7 953,419 953.9,424.3 954.9,424.4 955.8,427.5 956.8,422.1 957.8,421.3 958.7,417.2 959.7,420.9 960.6,418.9 961.6,418.5 962.5,418.4 963.5,418.6 964.5,422.4 965.4,418.6 966.4,419.1 967.3,414.9 968.3,417.5 969.2,419.2 970.2,418 971.2,418.4 972.1,419.4 973.1,418.9 974,417.2 975,417.3 975.9,419.6 976.9,421 977.9,417 978.8,414.8 979.8,418.6 980.7,421.4 981.7,417 982.6,420.2 983.6,417.1 984.6,417.6 985.5,417.9 986.5,418.1 987.4,418.5 988.4,421.4 989.3,415.1 990.3,414.6 991.2,417.3 992.2,417.4 993.2,422.5 994.1,418.1 995.1,414.7 996,418.5 997,418.5 997.9,421.8 998.9,421.9 999.9,418 1000.8,415.4 1001.8,415.4 1002.7,416.5 1003.7,421.2 1004.6,422.4 1005.6,421.5 1006.6,415.2 1007.5,419.7 1008.5,416.6 1009.4,421.3 1010.4,421.9 1011.3,421.4 1012.3,416.9 1013.3,418.8 1014.2,418.6 1015.2,417.9 1016.1,418.5 1017.1,421.3 1018,418.2 1019,416.7 1020,415.1 1020.9,418.6 1021.9,420.4 1022.8,420 1023.8,418.4 1024.7,415.5 1025.7,417.4 1026.6,423.5 1027.6,419.2 1028.6,418.1 1029.5,417 1030.5,418.9 1031.4,418.6 1032.4,422.1 1033.3,418.3 1034.3,419 1035.3,418.8 1036.2,418.9 1037.2,419.3 1038.1,420.6 1039.1,417.6 1040,419.4 1041,415.3 1042,419.5 1042.9,414.6 1043.9,418.1 1044.8,419.2 1045.8,423.1 1046.7,415.8 1047.7,414.7 1048.7,415.6 1049.6,420.1 1050.6,421.9 1051.5,418.4 1052.5,416.6 1053.4,418.3 1054.4,419.5 1055.3,423.9 1056.3,419.5 1057.3,421.9 1058.2,419.4 1059.2,418.7 1060.1,417.6 1061.1,419.3 1062,421.3 1063,423.2 1064,415.9 1064.9,416.9 1065.9,417 1066.8,418.5 1067.8,421.8 1068.7,421.9 1069.7,420.1 1070.7,416.5 1071.6,416.7 1072.6,417.9 1073.5,424.2 1074.5,421.2 1075.4,418.5 1076.4,418 1077.4,420.4 1078.3,419.3 1079.3,423.3 1080.2,420.1 1081.2,418.6 1082.1,417.8 1083.1,415.9 1084.1,423.1 1085,420.8 1086,422.4 1086.9,417.2 1087.9,417.7 1088.8,416.7 1089.8,423 1090.7,420.3 1091.7,420.8 1092.7,420.6 1093.6,415.3 1094.6,415.9 1095.5,419.8 1096.5,419.3 1097.4,421.4 1098.4,415.7 1099.4,419.6 1100.3,416.7 1101.3,418.5 1102.2,423.3 1103.2,420.5 1104.1,415.2 1105.1,419.8 1106.1,418.1 1107,419.2 1108,422.7 1108.9,423.3 1109.9,417.4 1110.8,416.5 1111.8,415.8 1112.8,421 1113.7,423.8 1114.7,419.6 1115.6,419.5 1116.6,417.8 1117.5,417.2 1118.5,419.1 1119.5,421.7 1120.4,423.5 1121.4,418.1 1122.3,418.4 1123.3,417.2 1124.2,423.2 1125.2,421.3 1126.1,424 1127.1,415.7 1128.1,420.9 1129,417.8 1130,423.3 1130.9,422.6 1131.9,422.1 1132.8,419.8 1133.8,419.7 1134.8,420.1 1135.7,422.1 1136.7,419 1137.6,423.9 1138.6,420.5 1139.5,420.7 1140.5,416.2 1141.5,419.8 1142.4,419.8 1143.4,424.3 1144.3,419.1 1145.3,418.2 1146.2,418.5 1147.2,420.4 1148.2,423.4 1149.1,419.4 1150.1,418.5 1151,418.2 1152,418.7 1152.9,422.3 1153.9,425.2 1154.9,424.3 1155.8,418.5 1156.8,421.4 1157.7,417.9 1158.7,423.7 1159.6,420.7 1160.6,422.8 1161.5,417.6 1162.5,419.9 1163.5,421.3 1164.4,421.4 1165.4,420.7 1166.3,424.2 1167.3,421.8 1168.2,417.2 1169.2,417.4" fill="none" stroke="#1010f0" stroke-width="3.0" stroke-linejoin="round" />
<polyline points="828.6,526.5 829.6,525.8 830.5,526.4 831.5,525.8 832.4,525.5 833.4,525.2 834.3,527.3 835.3,526.6 836.3,523.3 837.2,522.7 838.2,525.7 839.1,525.9 840.1,525.1 841,521.8 842,523.7 843,520.9 843.9,523 844.9,523.5 845.8,519 846.8,520.8 847.7,516.6 848.7,515.1 849.6,516.2 850.6,515.7 851.6,517.5 852.5,519.2 853.5,518.2 854.4,515 855.4,515.3 856.3,516.2 857.3,517.9 858.3,516.4 859.2,514.7 860.2,518 861.1,514 862.1,518.1 863,515 864,518.4 865,514.4 865.9,517 866.9,515.9 867.8,518.4 868.8,515.4 869.7,513.9 870.7,517.3 871.7,514.7 872.6,518.1 873.6,518.7 874.5,515.6 875.5,517.6 876.4,515.5 877.4,518.7 878.4,518.5 879.3,517.7 880.3,516.8 881.2,518.3 882.2,518.9 883.1,519.1 884.1,518 885,519.6 886,517.3 887,519.9 887.9,517.6 888.9,518.7 889.8,520.2 890.8,520.4 891.7,517.7 892.7,517.2 893.7,519.9 894.6,518.1 895.6,520.5 896.5,518.8 897.5,517.2 898.4,520.3 899.4,519.1 900.4,517 901.3,520.2 902.3,517.8 903.2,521.3 904.2,520.5 905.1,518.1 906.1,517.8 907.1,520.7 908,520.2 909,406.7 909.9,404.5 910.9,401.6 911.8,396.9 912.8,396 913.8,392.5 914.7,391.6 915.7,390.6 916.6,390.6 917.6,391.7 918.5,389.9 919.5,390 920.4,390 921.4,389.1 922.4,385.6 923.3,384.8 924.3,384.3 925.2,386 926.2,386.9 927.1,386.1 928.1,386 929.1,382.4 930,382.5 931,382.5 931.9,383.4 932.9,383.2 933.8,381.6 934.8,380.4 935.8,380.8 936.7,379.3 937.7,380.5 938.6,378.9 939.6,379.6 940.5,379.5 941.5,377.7 942.5,379.1 943.4,376.8 944.4,379.6 945.3,376.1 946.3,377.3 947.2,379.9 948.2,377.6 949.2,379.5 950.1,380.4 951.1,380.3 952,378.8 953,376.3 953.9,379.8 954.9,378.3 955.8,378.8 956.8,380.1 957.8,377.6 958.7,379.5 959.7,380.8 960.6,376.9 961.6,377.3 962.5,380.8 963.5,378.8 964.5,379.5 965.4,377.8 966.4,379.5 967.3,377.6 968.3,380.8 969.2,376.6 970.2,377.9 971.2,379.1 972.1,377.1 973.1,377.5 974,379.6 975,380.7 975.9,378 976.9,379 977.9,376.9 978.8,380.4 979.8,377.1 980.7,377 981.7,380.1 982.6,379.9 983.6,378.2 984.6,379.8 985.5,378.8 986.5,378.6 987.4,379.3 988.4,380.6 989.3,379.8 990.3,377.3 991.2,377.3 992.2,380.7 993.2,377.8 994.1,376.9 995.1,378.3 996,376.6 997,378.4 997.9,379 998.9,379.3 999.9,378.4 1000.8,378.1 1001.8,376.4 1002.7,380.6 1003.7,379.7 1004.6,376.9 1005.6,378 1006.6,379.8 1007.5,378.6 1008.5,381 1009.4,380.6 1010.4,381.2 1011.3,377.2 1012.3,380.7 1013.3,379.6 1014.2,379.8 1015.2,378 1016.1,381 1017.1,381.3 1018,380.6 1019,378.6 1020,379.7 1020.9,381 1021.9,380 1022.8,380.1 1023.8,377.9 1024.7,378 1025.7,381.3 1026.6,377.4 1027.6,380.9 1028.6,379.5 1029.5,379.4 1030.5,381.3 1031.4,380.9 1032.4,377.8 1033.3,378.1 1034.3,377.6 1035.3,376.7 1036.2,377.1 1037.2,380 1038.1,378.3 1039.1,378.3 1040,380.4 1041,377.8 1042,377.1 1042.9,378.6 1043.9,377.7 1044.8,380.1 1045.8,377.4 1046.7,379.9 1047.7,380 1048.7,378.8 1049.6,378.5 1050.6,379.3 1051.5,377.5 1052.5,377.9 1053.4,379 1054.4,377.2 1055.3,379.6 1056.3,379.6 1057.3,376.8 1058.2,380 1059.2,380.9 1060.1,377.4 1061.1,378.2 1062,380 1063,377.6 1064,378.3 1064.9,379.4 1065.9,379 1066.8,377 1067.8,379 1068.7,381.1 1069.7,379.5 1070.7,380.1 1071.6,376.9 1072.6,379.5 1073.5,379.7 1074.5,377.9 1075.4,377.9 1076.4,381.2 1077.4,378.3 1078.3,377.1 1079.3,378.8 1080.2,380.3 1081.2,377.1 1082.1,381.3 1083.1,379.3 1084.1,380.7 1085,378.9 1086,379.7 1086.9,377.4 1087.9,381.3 1088.8,379.4 1089.8,380.3 1090.7,381.1 1091.7,377.6 1092.7,378.5 1093.6,380 1094.6,379.1 1095.5,379.5 1096.5,381.4 1097.4,380.1 1098.4,381.5 1099.4,381.2 1100.3,377.6 1101.3,377.9 1102.2,380.3 1103.2,381.6 1104.1,377.4 1105.1,381.4 1106.1,380.5 1107,377.6 1108,378.9 1108.9,379.6 1109.9,377.9 1110.8,377.3 1111.8,378.9 1112.8,377.3 1113.7,381.4 1114.7,379.2 1115.6,378.4 1116.6,377.6 1117.5,379.4 1118.5,378.7 1119.5,380.4 1120.4,378.2 1121.4,379 1122.3,377 1123.3,379.2 1124.2,380.9 1125.2,377.9 1126.1,379.6 1127.1,381.2 1128.1,377.1 1129,379.4 1130,381 1130.9,380.8 1131.9,380.6 1132.8,377.3 1133.8,377.9 1134.8,381.7 1135.7,378.4 1136.7,380.2 1137.6,379.7 1138.6,378.2 1139.5,380.4 1140.5,380.4 1141.5,377.3 1142.4,378 1143.4,377.8 1144.3,378.2 1145.3,377.2 1146.2,378.2 1147.2,378.2 1148.2,380.5 1149.1,378.4 1150.1,377.3 1151,379.1 1152,378.4 1152.9,381 1153.9,379.6 1154.9,379.3 1155.8,378.3 1156.8,379.4 1157.7,380.8 1158.7,377.1 1159.6,379.6 1160.6,381.3 1161.5,377.8 1162.5,380.1 1163.5,377.3 1164.4,381.8 1165.4,378.2 1166.3,378.6 1167.3,378.5 1168.2,381.8 1169.2,379.5" fill="none" stroke="#ff00ff" stroke-width="3.0" stroke-linejoin="round" />
<polyline points="828.6,520.3 829.6,521.3 830.5,522.4 831.5,519.3 832.4,520.6 833.4,517 834.3,521.2 835.3,520.2 836.3,518.5 837.2,521.4 838.2,521.2 839.1,521.4 840.1,516.9 841,517.1 842,520.7 843,519.7 843.9,517.3 844.9,520.6 845.8,520.4 846.8,519.5 847.7,516 848.7,518.9 849.6,516 850.6,519.2 851.6,516.4 852.5,516 853.5,516.1 854.4,518.6 855.4,516.9 856.3,518 857.3,517.4 858.3,517.3 859.2,513.9 860.2,517.9 861.1,516.6 862.1,514.4 863,518.4 864,514.5 865,513.8 865.9,515.5 866.9,513.8 867.8,516.5 868.8,514.7 869.7,513.5 870.7,516.3 871.7,516.6 872.6,513.8 873.6,515.3 874.5,516.4 875.5,517.1 876.4,515.3 877.4,513.9 878.4,516.7 879.3,517 880.3,516.9 881.2,519.6 882.2,515.3 883.1,516 884.1,516.6 885,516.3 886,515.8 887,518 887.9,517.3 888.9,519.3 889.8,517.6 890.8,517.2 891.7,517.8 892.7,520 893.7,519.6 894.6,521 895.6,519 896.5,518.2 897.5,519.5 898.4,517.8 899.4,519.6 900.4,519.2 901.3,520.8 902.3,519 903.2,520.9 904.2,521 905.1,519.9 906.1,518.8 907.1,519.6 908,521.3 909,519.1 909.9,492.9 910.9,394.6 911.8,391.7 912.8,384.1 913.8,383.8 914.7,379.2 915.7,378.5 916.6,377.3 917.6,377.3 918.5,377.2 919.5,373 920.4,372 921.4,369.5 922.4,370.9 923.3,367.8 924.3,368.7 925.2,365.2 926.2,369.1 927.1,367.5 928.1,364.1 929.1,365.3 930,363.8 931,361.2 931.9,364.3 932.9,364.3 933.8,363.9 934.8,359.7 935.8,357 936.7,360.3 937.7,358 938.6,357.7 939.6,356.5 940.5,353.9 941.5,352.8 942.5,353.7 943.4,353.6 944.4,350.4 945.3,352.2 946.3,353.6 947.2,353.2 948.2,352.7 949.2,355.8 950.1,353.5 951.1,356.2 952,358.5 953,355.5 953.9,355 954.9,354.2 955.8,352.7 956.8,357 957.8,350.7 958.7,350.1 959.7,349.1 960.6,353.1 961.6,348.8 962.5,350.9 963.5,346.4 964.5,349.4 965.4,350.1 966.4,346.5 967.3,345.4 968.3,345.7 969.2,345.9 970.2,347.3 971.2,343 972.1,346.5 973.1,342.7 974,344.9 975,342.3 975.9,341.1 976.9,342.4 977.9,339 978.8,341.3 979.8,337.5 980.7,341.1 981.7,340.3 982.6,342.5 983.6,344.1 984.6,346.2 985.5,344.1 986.5,348.2 987.4,346.7 988.4,346.7 989.3,347 990.3,346.9 991.2,345.2 992.2,342.6 993.2,342.7 994.1,345.1 995.1,343.2 996,342.6 997,341.7 997.9,341.9 998.9,344.8 999.9,344 1000.8,340 1001.8,342.6 1002.7,340.5 1003.7,343.1 1004.6,339.7 1005.6,341.1 1006.6,342.1 1007.5,341.9 1008.5,340.3 1009.4,338.4 1010.4,336.7 1011.3,340.5 1012.3,337.7 1013.3,338.7 1014.2,337.1 1015.2,336.5 1016.1,340 1017.1,339 1018,335.5 1019,336.6 1020,339.4 1020.9,337.2 1021.9,338.2 1022.8,339.3 1023.8,337.9 1024.7,337.1 1025.7,336.4 1026.6,335.1 1027.6,338.5 1028.6,334.4 1029.5,337.9 1030.5,336.3 1031.4,337.7 1032.4,337.3 1033.3,335.9 1034.3,335.6 1035.3,339.4 1036.2,339.6 1037.2,337.7 1038.1,337.8 1039.1,337.1 1040,334.2 1041,337.8 1042,338.2 1042.9,337 1043.9,337.5 1044.8,337.1 1045.8,336.4 1046.7,338.7 1047.7,335 1048.7,335.7 1049.6,334.9 1050.6,336.7 1051.5,338.2 1052.5,334.9 1053.4,334.1 1054.4,334 1055.3,334.9 1056.3,338.3 1057.3,337.3 1058.2,335 1059.2,338.6 1060.1,337.2 1061.1,336.6 1062,334.2 1063,338.6 1064,337.1 1064.9,335 1065.9,338.6 1066.8,336.8 1067.8,334.4 1068.7,335.9 1069.7,335.6 1070.7,340.1 1071.6,339 1072.6,343.9 1073.5,342.8 1074.5,343.2 1075.4,347 1076.4,345.5 1077.4,344.9 1078.3,341.5 1079.3,345.8 1080.2,343.6 1081.2,340 1082.1,344.8 1083.1,339.6 1084.1,344.3 1085,341.4 1086,341.6 1086.9,340 1087.9,342 1088.8,340.6 1089.8,338.1 1090.7,341.8 1091.7,337.4 1092.7,341.6 1093.6,340.9 1094.6,340.3 1095.5,338.2 1096.5,339.3 1097.4,338.1 1098.4,340.1 1099.4,338.4 1100.3,339.8 1101.3,338.9 1102.2,335.5 1103.2,335.8 1104.1,336.1 1105.1,338.3 1106.1,333.8 1107,337.3 1108,333.6 1108.9,335 1109.9,332 1110.8,336.1 1111.8,334.4 1112.8,335.9 1113.7,330.5 1114.7,332 1115.6,333.3 1116.6,334.4 1117.5,330.3 1118.5,333.3 1119.5,334.7 1120.4,332.8 1121.4,333.4 1122.3,330.8 1123.3,335.2 1124.2,331.2 1125.2,330.6 1126.1,335.3 1127.1,331.8 1128.1,331.6 1129,331.4 1130,330.8 1130.9,333.2 1131.9,332.2 1132.8,332.6 1133.8,333.4 1134.8,335.2 1135.7,332.9 1136.7,333 1137.6,334.1 1138.6,332 1139.5,331.1 1140.5,333.3 1141.5,334.1 1142.4,333.4 1143.4,332.1 1144.3,334.6 1145.3,331.7 1146.2,332.6 1147.2,332.4 1148.2,333.1 1149.1,336.1 1150.1,332.9 1151,331.6 1152,332.8 1152.9,331.9 1153.9,335.9 1154.9,334.1 1155.8,332.7 1156.8,331.4 1157.7,336.4 1158.7,335.7 1159.6,335.9 1160.6,336.5 1161.5,334.9 1162.5,336.9 1163.5,334.7 1164.4,336.8 1165.4,337.3 1166.3,336.8 1167.3,337.7 1168.2,343.1 1169.2,341.5" fill="none" stroke="#108010" stroke-width="3.0" stroke-linejoin="round" />
<polyline points="828.6,520.8 829.6,520.4 830.5,519.6 831.5,522.4 832.4,521.2 833.4,519.5 834.3,522.3 835.3,522.9 836.3,521.3 837.2,522.2 838.2,522.7 839.1,521.2 840.1,520.2 841,520.1 842,519.2 843,521.5 843.9,521.4 844.9,518.8 845.8,522.2 846.8,520 847.7,521.8 848.7,519.2 849.6,521.8 850.6,518.8 851.6,520.9 852.5,518.3 853.5,519.4 854.4,518.8 855.4,521.1 856.3,519.1 857.3,519.1 858.3,520.1 859.2,519.4 860.2,519.5 861.1,518.2 862.1,517.5 863,518.1 864,519.4 865,521 865.9,518.7 866.9,517.3 867.8,520.4 868.8,520.8 869.7,520.6 870.7,521 871.7,519.3 872.6,520.6 873.6,517.8 874.5,517.8 875.5,517.9 876.4,519.3 877.4,519.7 878.4,518.9 879.3,519.9 880.3,519.3 881.2,521.4 882.2,519.4 883.1,519.4 884.1,520.8 885,521 886,520 887,518.1 887.9,517.8 888.9,519 889.8,520.5 890.8,520.5 891.7,518.1 892.7,520.9 893.7,519.5 894.6,519.1 895.6,520.9 896.5,518.3 897.5,521 898.4,518.1 899.4,519.2 900.4,520 901.3,519.8 902.3,518.6 903.2,518.7 904.2,522.1 905.1,521 906.1,522.3 907.1,520.6 908,519.5 909,520.5 909.9,487.8 910.9,361.9 911.8,358.7 912.8,355.3 913.8,352.6 914.7,347.8 915.7,346.7 916.6,347.8 917.6,344.8 918.5,346 919.5,343.2 920.4,342.9 921.4,342.9 922.4,341 923.3,340.1 924.3,341.6 925.2,338 926.2,339.8 927.1,340.5 928.1,336.3 929.1,335.9 930,336.8 931,339 931.9,338.7 932.9,335.2 933.8,335.1 934.8,334.1 935.8,333.1 936.7,334 937.7,332.8 938.6,334.1 939.6,333.5 940.5,332.1 941.5,332.9 942.5,331 943.4,329.6 944.4,330.9 945.3,328.7 946.3,328.9 947.2,330.8 948.2,331.3 949.2,330.1 950.1,328.7 951.1,328.6 952,330 953,327.7 953.9,328.9 954.9,328.5 955.8,329.3 956.8,326.7 957.8,328.3 958.7,328.3 959.7,325.3 960.6,327.3 961.6,325.2 962.5,328.2 963.5,326.3 964.5,325.7 965.4,325.4 966.4,326.3 967.3,327.4 968.3,325.9 969.2,324.4 970.2,326.8 971.2,326.2 972.1,325.1 973.1,326.4 974,325.1 975,326 975.9,326.9 976.9,325.6 977.9,327.2 978.8,327.1 979.8,325.6 980.7,325.9 981.7,324 982.6,327 983.6,325.7 984.6,324.6 985.5,324.7 986.5,324.5 987.4,324.6 988.4,322.9 989.3,325.8 990.3,324.5 991.2,326.1 992.2,323.2 993.2,323.9 994.1,322 995.1,325.4 996,323.5 997,324.4 997.9,323.7 998.9,321.5 999.9,324.2 1000.8,324.4 1001.8,323.1 1002.7,323.5 1003.7,321.4 1004.6,321.5 1005.6,323.1 1006.6,320.6 1007.5,322.9 1008.5,323.5 1009.4,322.9 1010.4,321 1011.3,319.9 1012.3,319.8 1013.3,321.8 1014.2,320.6 1015.2,318.6 1016.1,319 1017.1,318.2 1018,320.4 1019,317.5 1020,319.8 1020.9,320 1021.9,317.9 1022.8,317 1023.8,316.7 1024.7,317 1025.7,318 1026.6,316.5 1027.6,316.9 1028.6,318.9 1029.5,317.8 1030.5,317.4 1031.4,316 1032.4,315.1 1033.3,315.1 1034.3,316.8 1035.3,317.7 1036.2,315.7 1037.2,316 1038.1,315.4 1039.1,318.3 1040,315.3 1041,317 1042,316.8 1042.9,318.5 1043.9,315.8 1044.8,319 1045.8,316.8 1046.7,315.9 1047.7,316.4 1048.7,318.9 1049.6,315.8 1050.6,316.4 1051.5,314.8 1052.5,314.5 1053.4,312.9 1054.4,314.9 1055.3,313.9 1056.3,312.8 1057.3,310.8 1058.2,311 1059.2,307.9 1060.1,308.1 1061.1,310.1 1062,310.3 1063,310.7 1064,310.4 1064.9,310 1065.9,309.8 1066.8,308.1 1067.8,310.6 1068.7,308.5 1069.7,307.4 1070.7,309.7 1071.6,308 1072.6,309.4 1073.5,306.8 1074.5,308.3 1075.4,308.7 1076.4,306.4 1077.4,308 1078.3,309.1 1079.3,310.4 1080.2,311.3 1081.2,311 1082.1,312.7 1083.1,309.8 1084.1,310.2 1085,311 1086,312.1 1086.9,312.3 1087.9,312.3 1088.8,312.6 1089.8,311.6 1090.7,311.2 1091.7,310.1 1092.7,311 1093.6,309.4 1094.6,309.1 1095.5,310.3 1096.5,308.2 1097.4,306.5 1098.4,307.1 1099.4,308.1 1100.3,309.4 1101.3,307.6 1102.2,309.7 1103.2,307.3 1104.1,309.8 1105.1,310.3 1106.1,308 1107,310.4 1108,310.3 1108.9,308.7 1109.9,310.1 1110.8,310.2 1111.8,308.2 1112.8,308.5 1113.7,308.2 1114.7,310.1 1115.6,310.9 1116.6,310.2 1117.5,311 1118.5,308.9 1119.5,311.9 1120.4,309.7 1121.4,310 1122.3,312.2 1123.3,310.3 1124.2,310.8 1125.2,310.5 1126.1,311.8 1127.1,313.4 1128.1,312.2 1129,310.4 1130,310.7 1130.9,313 1131.9,311.6 1132.8,314 1133.8,311.1 1134.8,311.6 1135.7,312.3 1136.7,312.7 1137.6,313.3 1138.6,312.6 1139.5,311.8 1140.5,311.7 1141.5,312.7 1142.4,310.4 1143.4,313.1 1144.3,312.3 1145.3,311.8 1146.2,312.1 1147.2,309.4 1148.2,308.8 1149.1,310.7 1150.1,311.1 1151,309 1152,309.2 1152.9,309.5 1153.9,308.3 1154.9,311.7 1155.8,309.5 1156.8,310.7 1157.7,307.8 1158.7,311.4 1159.6,307.9 1160.6,307.7 1161.5,311.1 1162.5,307.7 1163.5,309.1 1164.4,307.4 1165.4,309.1 1166.3,306.9 1167.3,309.5 1168.2,309.9 1169.2,308" fill="none" stroke="#000080" stroke-width="3.0" stroke-linejoin="round" />
<polyline points="828.6,518.4 829.6,521.2 830.5,519.3 831.5,520.9 832.4,520.4 833.4,519.3 834.3,518.6 835.3,519.6 836.3,517.7 837.2,518.7 838.2,521.1 839.1,518.6 840.1,520.8 841,519.8 842,518.4 843,518.8 843.9,517.5 844.9,518.5 845.8,516.7 846.8,517.5 847.7,517.2 848.7,517 849.6,517.4 850.6,517.1 851.6,519.1 852.5,518.4 853.5,517.7 854.4,517.9 855.4,517.9 856.3,515.8 857.3,516.7 858.3,517.7 859.2,515.6 860.2,517.4 861.1,516.8 862.1,517.2 863,515.3 864,516.1 865,518.1 865.9,515.3 866.9,517.5 867.8,517.2 868.8,517.9 869.7,515.9 870.7,516.1 871.7,517.4 872.6,514.4 873.6,516.8 874.5,517.9 875.5,515.3 876.4,516.5 877.4,516.8 878.4,516.3 879.3,516.9 880.3,517.2 881.2,518.9 882.2,515.9 883.1,517 884.1,516.5 885,519.2 886,517.6 887,518.3 887.9,517.6 888.9,517 889.8,518.9 890.8,517.1 891.7,517.3 892.7,520 893.7,516.9 894.6,517.9 895.6,519.5 896.5,517 897.5,520.6 898.4,518.5 899.4,517.5 900.4,518.1 901.3,517.4 902.3,519.3 903.2,517.6 904.2,521.2 905.1,518.2 906.1,520.8 907.1,519.1 908,517.8 909,464.8 909.9,320.2 910.9,316 911.8,310.4 912.8,309 913.8,304.9 914.7,302.1 915.7,299.7 916.6,297.2 917.6,299.2 918.5,296.8 919.5,295.4 920.4,295.2 921.4,292.1 922.4,292.7 923.3,293.4 924.3,290.1 925.2,288.6 926.2,288 927.1,288 928.1,287.2 929.1,284.8 930,284.6 931,283.7 931.9,282.4 932.9,284.5 933.8,281.2 934.8,279.8 935.8,279.8 936.7,278.3 937.7,280 938.6,277.9 939.6,277.3 940.5,276.8 941.5,277.2 942.5,276.7 943.4,274.4 944.4,276.8 945.3,276 946.3,276.2 947.2,273.1 948.2,272.7 949.2,274.3 950.1,273.7 951.1,271.7 952,271.9 953,272.5 953.9,270.2 954.9,271.7 955.8,273.3 956.8,272 957.8,271.9 958.7,272.6 959.7,270.5 960.6,270.6 961.6,269.8 962.5,268.7 963.5,271.3 964.5,270.8 965.4,269.1 966.4,268.5 967.3,268.5 968.3,270.8 969.2,267.6 970.2,269.6 971.2,270.1 972.1,266.2 973.1,269.4 974,265.8 975,268.6 975.9,268.4 976.9,265.3 977.9,265.8 978.8,264.6 979.8,268.1 980.7,265.3 981.7,266.1 982.6,266.5 983.6,265.6 984.6,264 985.5,265.4 986.5,263.5 987.4,263.5 988.4,264.8 989.3,266.8 990.3,266.8 991.2,265.1 992.2,263.9 993.2,263.2 994.1,264.4 995.1,267.3 996,263.6 997,264.9 997.9,266.8 998.9,264.4 999.9,263.5 1000.8,266.2 1001.8,265 1002.7,264.7 1003.7,264.8 1004.6,265.9 1005.6,265.1 1006.6,263.6 1007.5,265.1 1008.5,266.6 1009.4,265 1010.4,263.9 1011.3,266.3 1012.3,262.8 1013.3,264 1014.2,264.8 1015.2,264.4 1016.1,264.6 1017.1,261.2 1018,261 1019,262.3 1020,259.6 1020.9,262.4 1021.9,262.9 1022.8,260 1023.8,260.8 1024.7,263.6 1025.7,263.4 1026.6,264.9 1027.6,263.4 1028.6,263.9 1029.5,263.9 1030.5,263.5 1031.4,264 1032.4,266.5 1033.3,266.6 1034.3,268.1 1035.3,266.3 1036.2,266.7 1037.2,265.1 1038.1,266.3 1039.1,265.7 1040,264.2 1041,265.8 1042,265.1 1042.9,263.4 1043.9,262.6 1044.8,264.4 1045.8,262.9 1046.7,262.3 1047.7,262.1 1048.7,263.1 1049.6,260.2 1050.6,259.8 1051.5,261.3 1052.5,259.7 1053.4,258.7 1054.4,259.2 1055.3,262.3 1056.3,261.2 1057.3,261.7 1058.2,259.2 1059.2,260 1060.1,260 1061.1,263.1 1062,260.3 1063,262.9 1064,262.8 1064.9,261.8 1065.9,261.4 1066.8,263 1067.8,260.7 1068.7,261.3 1069.7,260.5 1070.7,264 1071.6,262.4 1072.6,262.5 1073.5,262.1 1074.5,263 1075.4,259.5 1076.4,262.3 1077.4,262.4 1078.3,262.2 1079.3,258.8 1080.2,258.2 1081.2,260.1 1082.1,260.3 1083.1,259.7 1084.1,258.8 1085,257.8 1086,259.2 1086.9,257.2 1087.9,257.3 1088.8,256.5 1089.8,256.4 1090.7,257.2 1091.7,256.4 1092.7,257.1 1093.6,258.7 1094.6,260.2 1095.5,259.4 1096.5,256.4 1097.4,257.6 1098.4,257 1099.4,260.3 1100.3,257.4 1101.3,259.6 1102.2,259.7 1103.2,259.3 1104.1,257.8 1105.1,258.5 1106.1,257.5 1107,261.6 1108,260 1108.9,259.4 1109.9,260.3 1110.8,260.7 1111.8,258.7 1112.8,260.5 1113.7,262.1 1114.7,261.2 1115.6,261.3 1116.6,262 1117.5,263 1118.5,260.2 1119.5,260.9 1120.4,260 1121.4,261.4 1122.3,262.3 1123.3,260.8 1124.2,262.3 1125.2,261.4 1126.1,261.5 1127.1,263.4 1128.1,264.7 1129,264.4 1130,262.4 1130.9,264.5 1131.9,264.7 1132.8,265.7 1133.8,263.6 1134.8,267 1135.7,263.7 1136.7,266.8 1137.6,266.8 1138.6,266.8 1139.5,266.4 1140.5,266 1141.5,265.6 1142.4,266.9 1143.4,266.4 1144.3,269.2 1145.3,267.1 1146.2,267.4 1147.2,269.7 1148.2,266.3 1149.1,268.1 1150.1,268.8 1151,270.1 1152,269.1 1152.9,268 1153.9,268.7 1154.9,270.8 1155.8,269.5 1156.8,266.7 1157.7,269.6 1158.7,267.2 1159.6,265.8 1160.6,266.2 1161.5,266 1162.5,268.1 1163.5,266.7 1164.4,266.5 1165.4,266.1 1166.3,264.1 1167.3,265.1 1168.2,266 1169.2,265.5" fill="none" stroke="#ff8c10" stroke-width="3.0" stroke-linejoin="round" />
<path d="M806.6,243.5H836.1" stroke="#000000" stroke-width="3.6"/>
<text x="839.8" y="248" font-size="12.6" >PBS</text>
<path d="M806.6,260.7H836.1" stroke="#e01010" stroke-width="3.6"/>
<text x="839.8" y="265.2" font-size="12.6" >5ng/mL</text>
<path d="M806.6,277.9H836.1" stroke="#1010f0" stroke-width="3.6"/>
<text x="839.8" y="282.4" font-size="12.6" >25ng/mL</text>
<path d="M806.6,295.1H836.1" stroke="#ff00ff" stroke-width="3.6"/>
<text x="839.8" y="299.6" font-size="12.6" >50ng/mL</text>
<path d="M806.6,312.3H836.1" stroke="#108010" stroke-width="3.6"/>
<text x="839.8" y="316.8" font-size="12.6" >100ng/mL</text>
<path d="M806.6,329.5H836.1" stroke="#000080" stroke-width="3.6"/>
<text x="839.8" y="334" font-size="12.6" >0.5µg/mL</text>
<path d="M806.6,346.7H836.1" stroke="#ff8c10" stroke-width="3.6"/>
<text x="839.8" y="351.2" font-size="12.6" >1µg/mL</text>
<path d="M1461.9,216v7.7M1461.9,543.8v-7.7M1533.3,216v7.7M1533.3,543.8v-7.7M1604.7,216v7.7M1604.7,543.8v-7.7M1676.2,216v7.7M1676.2,543.8v-7.7M1747.6,216v7.7M1747.6,543.8v-7.7M1819,216v7.7M1819,543.8v-7.7" stroke="#000" stroke-width="2.2" fill="none"/>
<path d="M1497.6,216v3.4M1497.6,543.8v-3.4M1569,216v3.4M1569,543.8v-3.4M1640.5,216v3.4M1640.5,543.8v-3.4M1711.9,216v3.4M1711.9,543.8v-3.4M1783.3,216v3.4M1783.3,543.8v-3.4" stroke="#000" stroke-width="2.2" fill="none"/>
<path d="M1426.8,509.2h7.3M1854.2,509.2h-7.3M1426.8,440.1h7.3M1854.2,440.1h-7.3M1426.8,371.1h7.3M1854.2,371.1h-7.3M1426.8,302.1h7.3M1854.2,302.1h-7.3M1426.8,233h7.3M1854.2,233h-7.3" stroke="#000" stroke-width="2.2" fill="none"/>
<path d="M1426.8,543.7h3.6M1854.2,543.7h-3.6M1426.8,474.7h3.6M1854.2,474.7h-3.6M1426.8,405.6h3.6M1854.2,405.6h-3.6M1426.8,336.6h3.6M1854.2,336.6h-3.6M1426.8,267.5h3.6M1854.2,267.5h-3.6" stroke="#000" stroke-width="2.2" fill="none"/>
<rect x="1426.8" y="216" width="427.4" height="327.8" fill="none" stroke="#000" stroke-width="3"/>
<text x="1418.3" y="513.9" font-size="13" text-anchor="end" >1</text>
<text x="1418.3" y="444.8" font-size="13" text-anchor="end" >2</text>
<text x="1418.3" y="375.8" font-size="13" text-anchor="end" >3</text>
<text x="1418.3" y="306.8" font-size="13" text-anchor="end" >4</text>
<text x="1418.3" y="237.7" font-size="13" text-anchor="end" >5</text>
<text x="1461.9" y="564.1" font-size="13.2" text-anchor="middle" >0</text>
<text x="1533.3" y="564.1" font-size="13.2" text-anchor="middle" >200</text>
<text x="1604.7" y="564.1" font-size="13.2" text-anchor="middle" >400</text>
<text x="1676.2" y="564.1" font-size="13.2" text-anchor="middle" >600</text>
<text x="1747.6" y="564.1" font-size="13.2" text-anchor="middle" >800</text>
<text x="1819" y="564.1" font-size="13.2" text-anchor="middle" >1000</text>
<text x="1528.5" y="598.7" font-size="21.5" >Concentration(ng/mL)</text>
<text transform="translate(1392.7,428.7) rotate(-90)" font-size="22">ΔI<tspan font-size="15.5" dy="6">DS</tspan><tspan dy="-6">/I</tspan><tspan font-size="15.5" dy="6">0</tspan></text>
<path d="M1465.5,493.2L1469.2,464.4M1473.1,437.7L1477.6,411.5M1484.6,385.6L1493.1,363M1510.7,346L1627.6,306.1M1653.4,298.1L1805.8,256.6" stroke="#000" stroke-width="3.1" fill="none"/>
<rect x="1455.3" y="498.1" width="17" height="17" fill="#ff0000"/>
<rect x="1462.4" y="442.5" width="17" height="17" fill="#ff0000"/>
<rect x="1471.3" y="389.7" width="17" height="17" fill="#ff0000"/>
<rect x="1489.4" y="341.9" width="17" height="17" fill="#ff0000"/>
<rect x="1631.9" y="293.2" width="17" height="17" fill="#ff0000"/>
<rect x="1810.3" y="244.5" width="17" height="17" fill="#ff0000"/>
<ellipse cx="1481.2" cy="431.5" rx="33.1" ry="112.2" transform="rotate(14.1 1481.2 431.5)" fill="none" stroke="#0a70c0" stroke-width="4.3" stroke-dasharray="18 9" stroke-dashoffset="7.5"/>
<path d="M1538.8,437.6H1584.7V433L1595.3,443L1584.7,453V448.2H1538.8Z" fill="#ff0000"/>
<path d="M1657.9,373.3v2.5M1657.9,495v-2.5M1684.3,373.3v2.5M1684.3,495v-2.5M1710.6,373.3v2.5M1710.6,495v-2.5M1737,373.3v2.5M1737,495v-2.5M1763.3,373.3v2.5M1763.3,495v-2.5M1789.7,373.3v2.5M1789.7,495v-2.5" stroke="#000" stroke-width="1" fill="none"/>
<path d="M1671.1,373.3v1.5M1671.1,495v-1.5M1697.4,373.3v1.5M1697.4,495v-1.5M1723.8,373.3v1.5M1723.8,495v-1.5M1750.2,373.3v1.5M1750.2,495v-1.5M1776.5,373.3v1.5M1776.5,495v-1.5" stroke="#000" stroke-width="1" fill="none"/>
<path d="M1644.9,483.5h2.5M1802.8,483.5h-2.5M1644.9,439.4h2.5M1802.8,439.4h-2.5M1644.9,395.3h2.5M1802.8,395.3h-2.5" stroke="#000" stroke-width="1" fill="none"/>
<path d="M1644.9,461.4h1.5M1802.8,461.4h-1.5M1644.9,417.4h1.5M1802.8,417.4h-1.5" stroke="#000" stroke-width="1" fill="none"/>
<rect x="1644.9" y="373.3" width="157.9" height="121.7" fill="none" stroke="#000" stroke-width="1.3"/>
<text x="1657.9" y="502.3" font-size="5.2" text-anchor="middle" >0</text>
<text x="1684.3" y="502.3" font-size="5.2" text-anchor="middle" >20</text>
<text x="1710.6" y="502.3" font-size="5.2" text-anchor="middle" >40</text>
<text x="1737" y="502.3" font-size="5.2" text-anchor="middle" >60</text>
<text x="1763.3" y="502.3" font-size="5.2" text-anchor="middle" >80</text>
<text x="1789.7" y="502.3" font-size="5.2" text-anchor="middle" >100</text>
<text x="1642" y="485.3" font-size="5.2" text-anchor="end" >1</text>
<text x="1642" y="441.2" font-size="5.2" text-anchor="end" >2</text>
<text x="1642" y="397.1" font-size="5.2" text-anchor="end" >3</text>
<polyline points="1664.5,481.7 1690.9,446.5 1723.8,412.9 1789.7,382.1" fill="none" stroke="#000" stroke-width="1.1" stroke-linejoin="round" />
<rect x="1661.5" y="478.7" width="6" height="6" fill="#ff0000"/>
<rect x="1687.9" y="443.5" width="6" height="6" fill="#ff0000"/>
<rect x="1720.8" y="409.9" width="6" height="6" fill="#ff0000"/>
<rect x="1786.7" y="379.1" width="6" height="6" fill="#ff0000"/>
<text x="1723.9" y="515.5" font-size="7.9" text-anchor="middle" >Concentration(ng/mL)</text>
<text x="1745.7" y="476.6" font-size="9.6" style="font-family:'Liberation Serif',serif">R<tspan font-size="5.5" dy="-3.5">2</tspan><tspan dy="3.5">=0.90543</tspan></text>
<text transform="translate(1635.3,452.7) rotate(-90)" font-size="8.5">ΔI<tspan font-size="5.5" dy="2.5">DS</tspan><tspan dy="-2.5">/I</tspan><tspan font-size="5.5" dy="2.5">0</tspan></text>
<path d="M161,933h6.5M161,806.5h6.5M161,869.8h3.5M161,743.2h3.5M612.3,933h-7M612.3,869.8h-7M612.3,806.5h-7M612.3,743.2h-7M612.3,964.6h-3.5M612.3,901.4h-3.5M612.3,838.1h-3.5M612.3,774.9h-3.5M612.3,711.6h-3.5" stroke="#000" stroke-width="2.2" fill="none"/>
<path d="M236,996.5v-6.5M386.8,996.5v-6.5M537.6,996.5v-6.5" stroke="#000" stroke-width="2.2"/>
<path d="M206.2,680v4M296.3,680v4M386.9,680v4M477,680v4M567.7,680v4M251.3,680v7M341.4,680v7M431.7,680v7M522.3,680v7" stroke="#000" stroke-width="2.2"/>
<rect x="161" y="680" width="451.3" height="316.5" fill="none" stroke="#000" stroke-width="3"/>
<text x="152.7" y="940.9" font-size="22" text-anchor="end" >100</text>
<text x="152.7" y="814.4" font-size="22" text-anchor="end" >200</text>
<text x="152.7" y="687.9" font-size="22" text-anchor="end" >300</text>
<text x="236" y="1021" font-size="22" text-anchor="middle" >30µm</text>
<text x="386.8" y="1021" font-size="22" text-anchor="middle" >20µm</text>
<text x="537.6" y="1021" font-size="22" text-anchor="middle" >10µm</text>
<text x="379" y="1053.3" font-size="28.5">L<tspan font-size="17" dy="7.5">G</tspan></text>
<text transform="translate(98.5,953) rotate(-90)" font-size="27.7">Resistance (MΩ)</text>
<path d="M236.3,800.3V790M236.3,808.6V801M227.8,790H244.8M227.8,801H244.8" stroke="#ff0000" stroke-width="3.4" stroke-linecap="round" fill="none"/>
<rect x="176.2" y="800.3" width="120.3" height="8.3" fill="none" stroke="#ff0000" stroke-width="3.6" rx="1"/>
<path d="M176.2,801.6H296.5" stroke="#ff0000" stroke-width="3.6"/>
<path d="M234.2,779.2l4.4,4.4m0,-4.4l-4.4,4.4" stroke="#ff0000" stroke-width="0.9"/>
<path d="M234.2,832l4.4,4.4m0,-4.4l-4.4,4.4" stroke="#ff0000" stroke-width="0.9"/>
<rect x="234.5" y="803.2" width="3.6" height="3.6" fill="none" stroke="#ff0000" stroke-width="0.6"/>
<path d="M386.9,876.3V868.3M386.9,892.1V910.3M378.4,868.3H395.4M378.4,910.3H395.4" stroke="#00ff00" stroke-width="3.4" stroke-linecap="round" fill="none"/>
<rect x="327" y="876.3" width="119.8" height="15.8" fill="none" stroke="#00ff00" stroke-width="3.6" rx="1"/>
<path d="M327,890H446.8" stroke="#00ff00" stroke-width="3.6"/>
<path d="M384.7,838.3l4.4,4.4m0,-4.4l-4.4,4.4" stroke="#00ff00" stroke-width="0.9"/>
<rect x="385.1" y="882.2" width="3.6" height="3.6" fill="none" stroke="#00ff00" stroke-width="0.6"/>
<path d="M537.8,917.3V907.1M537.8,933.3V947.2M529.3,907.1H546.3M529.3,947.2H546.3" stroke="#0000ff" stroke-width="3.4" stroke-linecap="round" fill="none"/>
<rect x="477.8" y="917.3" width="120" height="16" fill="none" stroke="#0000ff" stroke-width="3.6" rx="1"/>
<path d="M477.8,927.2H597.8" stroke="#0000ff" stroke-width="3.6"/>
<rect x="536" y="923.2" width="3.6" height="3.6" fill="none" stroke="#0000ff" stroke-width="0.6"/>
<rect x="422.7" y="744.3" width="169.5" height="16.1" fill="#cfd966"/>
<rect x="422.7" y="760.4" width="169.5" height="31.8" fill="#6666dd"/>
<rect x="422.7" y="792.2" width="169.5" height="48.2" fill="#cfd966"/>
<rect x="423.4" y="727.9" width="34.3" height="32.5" fill="#ff66cc"/>
<rect x="556.7" y="727.9" width="34.3" height="32.5" fill="#ff66cc"/>
<path d="M466,731.1H548" stroke="#000" stroke-width="1.8"/>
<path d="M458.5,731.1l9,-3.6v7.2z M556,731.1l-9,-3.6v7.2z" fill="#000"/>
<text x="481.5" y="715.7" font-size="17" fill="#dd0000">L<tspan font-size="11.5" dy="5">G</tspan></text>
<text x="440.3" y="751.1" font-size="18" text-anchor="middle" fill="#fff" >Au</text>
<text x="571.8" y="750.1" font-size="18" text-anchor="middle" fill="#fff" >Au</text>
<text x="484.6" y="781.6" font-size="18.5" fill="#fff">SiO<tspan font-size="12" dy="4.5">2</tspan></text>
<text x="503.1" y="818.4" font-size="18.5" text-anchor="middle" fill="#fff" >Si sub.</text>
<path d="M830.7,686.7v6.8M830.7,996.7v-6.8M926.4,686.7v6.8M926.4,996.7v-6.8M1022.1,686.7v6.8M1022.1,996.7v-6.8M1117.7,686.7v6.8M1117.7,996.7v-6.8M1213.4,686.7v6.8M1213.4,996.7v-6.8" stroke="#000" stroke-width="2.2" fill="none"/>
<path d="M878.5,686.7v3.4M878.5,996.7v-3.4M974.2,686.7v3.4M974.2,996.7v-3.4M1069.9,686.7v3.4M1069.9,996.7v-3.4M1165.6,686.7v3.4M1165.6,996.7v-3.4" stroke="#000" stroke-width="2.2" fill="none"/>
<path d="M793,974.5h7.4M1213.4,974.5h-7.4M793,930.1h7.4M1213.4,930.1h-7.4M793,885.8h7.4M1213.4,885.8h-7.4M793,841.5h7.4M1213.4,841.5h-7.4M793,797.1h7.4M1213.4,797.1h-7.4M793,752.8h7.4M1213.4,752.8h-7.4M793,708.4h7.4M1213.4,708.4h-7.4" stroke="#000" stroke-width="2.2" fill="none"/>
<path d="M793,996.7h3.4M1213.4,996.7h-3.4M793,952.3h3.4M1213.4,952.3h-3.4M793,908h3.4M1213.4,908h-3.4M793,863.6h3.4M1213.4,863.6h-3.4M793,819.3h3.4M1213.4,819.3h-3.4M793,774.9h3.4M1213.4,774.9h-3.4M793,730.6h3.4M1213.4,730.6h-3.4M793,686.2h3.4M1213.4,686.2h-3.4" stroke="#000" stroke-width="2.2" fill="none"/>
<rect x="793" y="686.7" width="420.4" height="310" fill="none" stroke="#000" stroke-width="3"/>
<text x="783.9" y="979" font-size="12.5" text-anchor="end" >0</text>
<text x="783.9" y="934.6" font-size="12.5" text-anchor="end" >10</text>
<text x="783.9" y="890.3" font-size="12.5" text-anchor="end" >20</text>
<text x="783.9" y="846" font-size="12.5" text-anchor="end" >30</text>
<text x="783.9" y="801.6" font-size="12.5" text-anchor="end" >40</text>
<text x="783.9" y="757.2" font-size="12.5" text-anchor="end" >50</text>
<text x="783.9" y="712.9" font-size="12.5" text-anchor="end" >60</text>
<text x="830.7" y="1015.5" font-size="12.8" text-anchor="middle" >0</text>
<text x="926.4" y="1015.5" font-size="12.8" text-anchor="middle" >50</text>
<text x="1022.1" y="1015.5" font-size="12.8" text-anchor="middle" >100</text>
<text x="1117.7" y="1015.5" font-size="12.8" text-anchor="middle" >150</text>
<text x="1213.4" y="1015.5" font-size="12.8" text-anchor="middle" >200</text>
<text x="1003.4" y="1047.6" font-size="20.6" text-anchor="middle" >Time(s)</text>
<text transform="translate(740.5,875.2) rotate(-90)" font-size="21">I<tspan font-size="14" dy="6">DS</tspan><tspan dy="-6">/I</tspan><tspan font-size="14" dy="6">0</tspan></text>
<polyline points="830.7,974.6 831.7,974.5 832.6,974.3 833.6,974.4 834.5,973.9 835.5,973.8 836.4,973.7 837.4,973.6 838.4,973.9 839.3,973.7 840.3,973.3 841.2,973.7 842.2,973.1 843.1,973 844.1,973.2 845.1,973.3 846,972.8 847,972.9 847.9,972.8 848.9,972.5 849.8,972.3 850.8,971.9 851.7,971.7 852.7,971.4 853.7,971.2 854.6,971.2 855.6,971.1 856.5,970.8 857.5,970.5 858.4,970.3 859.4,970 860.4,969.5 861.3,969.7 862.3,969.4 863.2,969.4 864.2,969.2 865.1,969.2 866.1,969.2 867.1,969.4 868,969.7 869,969.6 869.9,969.7 870.9,969.8 871.8,969.4 872.8,969.6 873.8,969.5 874.7,969.5 875.7,970.1 876.6,970.1 877.6,970 878.5,970.1 879.5,970.2 880.5,970.6 881.4,970.1 882.4,970.3 883.3,970.6 884.3,970.8 885.2,970.8 886.2,970.9 887.1,971.1 888.1,971 889.1,971.5 890,971.5 891,971.3 891.9,971.5 892.9,971.9 893.8,972 894.8,971.9 895.8,972.2 896.7,971.9 897.7,972.1 898.6,972.3 899.6,972.4 900.5,972.6 901.5,972.7 902.5,972.5 903.4,972.6 904.4,972.5 905.3,972.6 906.3,972.7 907.2,972.9 908.2,973.2 909.2,973.1 910.1,972.9 911.1,972.7 912,971.5 913,969.6 913.9,969.6 914.9,970 915.9,969.6 916.8,969.5 917.8,969.8 918.7,969.8 919.7,969.7 920.6,969.7 921.6,969.6 922.5,969.9 923.5,969.7 924.5,970 925.4,970 926.4,969.9 927.3,969.9 928.3,970.3 929.2,970.1 930.2,969.7 931.2,970.3 932.1,969.7 933.1,969.7 934,970 935,969.7 935.9,969.7 936.9,970.1 937.9,969.8 938.8,970.2 939.8,970.1 940.7,970.3 941.7,970.2 942.6,969.7 943.6,970 944.6,970.2 945.5,970.4 946.5,969.8 947.4,969.8 948.4,969.8 949.3,970.5 950.3,970 951.3,970.3 952.2,970.4 953.2,970.2 954.1,970.4 955.1,970 956,970.5 957,970.4 957.9,970.6 958.9,970.2 959.9,970.4 960.8,970.4 961.8,970.1 962.7,970.4 963.7,970.4 964.6,970.2 965.6,970.4 966.6,970.2 967.5,970.8 968.5,971.1 969.4,971.6 970.4,972.2 971.3,972.2 972.3,971 973.3,970 974.2,968.9 975.2,968.3 976.1,966.9 977.1,966.6 978,967 979,967.4 980,967.6 980.9,967.9 981.9,967.9 982.8,968.4 983.8,968.5 984.7,968.9 985.7,969 986.7,969 987.6,969.1 988.6,968.7 989.5,968.6 990.5,968.9 991.4,969 992.4,969 993.3,968.9 994.3,968.9 995.3,968.9 996.2,969.2 997.2,969.2 998.1,969.3 999.1,969.5 1000,969.6 1001,969.1 1002,969.4 1002.9,969.6 1003.9,969.8 1004.8,969.8 1005.8,969.5 1006.7,969.5 1007.7,969.3 1008.7,969.4 1009.6,969.7 1010.6,969.6 1011.5,970 1012.5,970 1013.4,969.8 1014.4,969.7 1015.4,969.7 1016.3,969.6 1017.3,970 1018.2,970 1019.2,970.2 1020.1,970.2 1021.1,970.3 1022.1,969.8 1023,970 1024,969.9 1024.9,970.4 1025.9,970.2 1026.8,970 1027.8,970.4 1028.7,970.2 1029.7,970.5 1030.7,970.1 1031.6,970.2 1032.6,970.2 1033.5,970.6 1034.5,970.3 1035.4,970.4 1036.4,970.5 1037.4,970 1038.3,970.4 1039.3,970.3 1040.2,970.4 1041.2,970.2 1042.1,970.7 1043.1,970.5 1044.1,970.3 1045,970.7 1046,969.8 1046.9,968.5 1047.9,967.5 1048.8,966.7 1049.8,967 1050.8,967.3 1051.7,967.4 1052.7,967.1 1053.6,967.6 1054.6,967.6 1055.5,967.7 1056.5,967.6 1057.4,967.6 1058.4,968 1059.4,967.9 1060.3,967.7 1061.3,967.9 1062.2,967.8 1063.2,967.9 1064.1,968.2 1065.1,968.5 1066.1,968.5 1067,968.5 1068,968.3 1068.9,968.8 1069.9,968.5 1070.8,969 1071.8,969 1072.8,969.2 1073.7,969 1074.7,968.8 1075.6,969.1 1076.6,969.1 1077.5,969.5 1078.5,969.4 1079.5,969.3 1080.4,969.7 1081.4,969.6 1082.3,969.3 1083.3,969.8 1084.2,969.4 1085.2,969.6 1086.2,969.9 1087.1,970 1088.1,969.7 1089,969.9 1090,970.1 1090.9,969.8 1091.9,970.1 1092.8,969.8 1093.8,970.3 1094.8,970.3 1095.7,970.1 1096.7,970.5 1097.6,970.3 1098.6,970.3 1099.5,970.6 1100.5,970.8 1101.5,970.8 1102.4,971.5 1103.4,971.1 1104.3,971.4 1105.3,971.9 1106.2,970.8 1107.2,968.6 1108.2,967.2 1109.1,966 1110.1,966 1111,966.9 1112,967 1112.9,967.2 1113.9,967.7 1114.9,967.9 1115.8,967.7 1116.8,968.2 1117.7,968.6 1118.7,968.6 1119.6,968.4 1120.6,968.5 1121.6,968.7 1122.5,969 1123.5,968.9 1124.4,968.9 1125.4,969 1126.3,968.8 1127.3,968.6 1128.2,968.9 1129.2,969.3 1130.2,969.2 1131.1,968.7 1132.1,968.7 1133,969.2 1134,969.2 1134.9,969.3 1135.9,969.1 1136.9,969 1137.8,969.2 1138.8,969.2 1139.7,969.7 1140.7,969.1 1141.6,969.4 1142.6,969.8 1143.6,969.6 1144.5,969.4 1145.5,969.8 1146.4,969.4 1147.4,969.6 1148.3,969.6 1149.3,969.4 1150.3,969.4 1151.2,969.8 1152.2,970 1153.1,969.6 1154.1,969.6 1155,969.9 1156,969.9 1157,969.6 1157.9,970.1 1158.9,970.1 1159.8,969.6 1160.8,970.2 1161.7,970.1 1162.7,970.3 1163.6,970 1164.6,969.8 1165.6,970.2 1166.5,970.3 1167.5,970 1168.4,970.2 1169.4,970" fill="none" stroke="#000" stroke-width="2.6" stroke-linejoin="round" />
<polyline points="830.7,974.6 831.7,974.6 832.6,974.1 833.6,974.4 834.5,974.1 835.5,974.4 836.4,973.7 837.4,974.1 838.4,973.7 839.3,973.4 840.3,973.8 841.2,973.3 842.2,973.7 843.1,972.9 844.1,973 845.1,972.8 846,973.1 847,972.8 847.9,972.5 848.9,972.6 849.8,972.1 850.8,972 851.7,972 852.7,971.4 853.7,971.3 854.6,971.4 855.6,971.1 856.5,970.6 857.5,970.4 858.4,970.3 859.4,969.9 860.4,970.2 861.3,969.8 862.3,969.7 863.2,969 864.2,969.1 865.1,969.1 866.1,969.3 867.1,969.5 868,969.5 869,969.6 869.9,969.8 870.9,969.4 871.8,969.9 872.8,969.9 873.8,969.6 874.7,969.6 875.7,970.2 876.6,969.8 877.6,970.2 878.5,969.8 879.5,970.5 880.5,969.9 881.4,970.6 882.4,970.7 883.3,970.4 884.3,970.8 885.2,971.1 886.2,971.1 887.1,970.8 888.1,971.1 889.1,971.3 890,971.4 891,971.8 891.9,971.6 892.9,971.6 893.8,972.2 894.8,972.1 895.8,971.7 896.7,972.1 897.7,972.3 898.6,972.2 899.6,972.4 900.5,972.7 901.5,972.1 902.5,972.7 903.4,972.6 904.4,972.8 905.3,972.6 906.3,973 907.2,973.1 908.2,973 909.2,972.8 910.1,972.9 911.1,972.6 912,965.3 913,958.9 913.9,952.6 914.9,951.3 915.9,951.4 916.8,951.5 917.8,951.8 918.7,952.4 919.7,952.5 920.6,952.5 921.6,952.8 922.5,953 923.5,953.5 924.5,953.6 925.4,953.7 926.4,953.9 927.3,953.6 928.3,953.8 929.2,954 930.2,954.1 931.2,954.4 932.1,954.6 933.1,954.3 934,954.2 935,954.9 935.9,954.7 936.9,955.1 937.9,955.3 938.8,954.8 939.8,955 940.7,955.1 941.7,955.3 942.6,955.8 943.6,955.7 944.6,955.3 945.5,955.7 946.5,955.6 947.4,955.5 948.4,955.7 949.3,956.1 950.3,955.7 951.3,955.9 952.2,956.3 953.2,956.5 954.1,956.3 955.1,956.3 956,956.5 957,956.5 957.9,956.4 958.9,956.7 959.9,956.2 960.8,956.5 961.8,956.3 962.7,956.6 963.7,956.9 964.6,957 965.6,956.9 966.6,956.8 967.5,956.6 968.5,956.7 969.4,956.7 970.4,956.8 971.3,957 972.3,957.2 973.3,957.4 974.2,957.5 975.2,957 976.1,957.2 977.1,957.5 978,957.6 979,957.8 980,957.5 980.9,957.7 981.9,957.3 982.8,957.9 983.8,957.7 984.7,957.7 985.7,957.6 986.7,957.9 987.6,957.7 988.6,957.9 989.5,957.9 990.5,958 991.4,957.6 992.4,957.8 993.3,958.2 994.3,957.9 995.3,957.7 996.2,958.2 997.2,957.7 998.1,957.9 999.1,957.8 1000,957.9 1001,958.4 1002,958.1 1002.9,957.9 1003.9,958 1004.8,958 1005.8,958.1 1006.7,958.3 1007.7,958 1008.7,958.5 1009.6,958 1010.6,958 1011.5,958.3 1012.5,958.2 1013.4,958.2 1014.4,958.7 1015.4,958.6 1016.3,958.2 1017.3,958.6 1018.2,958.5 1019.2,958.3 1020.1,958.4 1021.1,958.8 1022.1,958.6 1023,958.7 1024,958.6 1024.9,958.6 1025.9,958.7 1026.8,958.4 1027.8,958.6 1028.7,958.5 1029.7,958.8 1030.7,958.8 1031.6,958.7 1032.6,958.6 1033.5,958.7 1034.5,958.5 1035.4,958.8 1036.4,958.9 1037.4,958.9 1038.3,958.7 1039.3,958.5 1040.2,958.6 1041.2,959 1042.1,958.4 1043.1,958.5 1044.1,958.7 1045,958.8 1046,958.5 1046.9,958.7 1047.9,958.8 1048.8,959.2 1049.8,958.8 1050.8,958.6 1051.7,958.9 1052.7,958.6 1053.6,959 1054.6,959 1055.5,958.7 1056.5,959 1057.4,959.2 1058.4,958.9 1059.4,959.3 1060.3,959.3 1061.3,958.9 1062.2,959 1063.2,959.3 1064.1,959.1 1065.1,959.4 1066.1,958.8 1067,958.8 1068,959.4 1068.9,959.2 1069.9,959.3 1070.8,959 1071.8,959.1 1072.8,959.1 1073.7,958.9 1074.7,959.1 1075.6,959.1 1076.6,959 1077.5,959.4 1078.5,959 1079.5,958.9 1080.4,959.1 1081.4,958.9 1082.3,959.4 1083.3,959.4 1084.2,959.2 1085.2,959.6 1086.2,959.3 1087.1,959.6 1088.1,959.2 1089,959 1090,959.7 1090.9,959.4 1091.9,959.7 1092.8,959.5 1093.8,959.5 1094.8,959.7 1095.7,959.6 1096.7,959.3 1097.6,959.4 1098.6,959.3 1099.5,959.5 1100.5,959.3 1101.5,959.4 1102.4,959.3 1103.4,959.6 1104.3,959.5 1105.3,959.8 1106.2,959.6 1107.2,959.5 1108.2,959.3 1109.1,959.2 1110.1,959.4 1111,959.7 1112,959.6 1112.9,959.4 1113.9,959.3 1114.9,959.3 1115.8,959.7 1116.8,959.8 1117.7,959.5 1118.7,959.6 1119.6,959.4 1120.6,959.7 1121.6,959.9 1122.5,959.7 1123.5,959.6 1124.4,959.5 1125.4,959.8 1126.3,959.3 1127.3,959.9 1128.2,959.8 1129.2,959.9 1130.2,959.9 1131.1,959.4 1132.1,959.4 1133,959.4 1134,959.7 1134.9,960 1135.9,960 1136.9,959.9 1137.8,959.4 1138.8,959.8 1139.7,959.4 1140.7,959.8 1141.6,960.1 1142.6,959.5 1143.6,959.6 1144.5,959.7 1145.5,959.7 1146.4,959.6 1147.4,960 1148.3,959.9 1149.3,959.8 1150.3,960 1151.2,959.7 1152.2,959.7 1153.1,960 1154.1,959.5 1155,960.1 1156,959.9 1157,960 1157.9,959.6 1158.9,960 1159.8,960.1 1160.8,959.6 1161.7,959.9 1162.7,959.7 1163.6,959.7 1164.6,959.6 1165.6,959.9 1166.5,959.6 1167.5,959.8 1168.4,959.6 1169.4,960 1170.3,960.1 1171.3,959.8" fill="none" stroke="#e81010" stroke-width="2.6" stroke-linejoin="round" />
<polyline points="830.7,972.3 831.7,975.4 832.6,974 833.6,973.8 834.5,976.4 835.5,973.4 836.4,972.4 837.4,974.9 838.4,976.4 839.3,974.6 840.3,974.1 841.2,972.9 842.2,975.1 843.1,975.6 844.1,971 845.1,972.7 846,973.2 847,971.2 847.9,974.7 848.9,971.4 849.8,970.5 850.8,972.6 851.7,972.4 852.7,969.4 853.7,973.2 854.6,970.4 855.6,971 856.5,970.7 857.5,969.8 858.4,969.9 859.4,969.2 860.4,971.2 861.3,968.2 862.3,969.7 863.2,970.5 864.2,971 865.1,967.9 866.1,967.1 867.1,967.4 868,967.9 869,967 869.9,967.1 870.9,969.4 871.8,968.5 872.8,972 873.8,972.3 874.7,971.9 875.7,969.2 876.6,967.6 877.6,970.1 878.5,967.9 879.5,971.8 880.5,969.2 881.4,969.7 882.4,972.4 883.3,971.6 884.3,969.6 885.2,970.7 886.2,969.9 887.1,971 888.1,969.4 889.1,970.8 890,971 891,969.7 891.9,969.7 892.9,970.9 893.8,969.2 894.8,971.2 895.8,970 896.7,971.9 897.7,970.5 898.6,973 899.6,972.7 900.5,971.4 901.5,970.3 902.5,970.7 903.4,970.6 904.4,971.9 905.3,970.6 906.3,970.2 907.2,974.8 908.2,974.2 909.2,974 910.1,973.3 911.1,942.9 912,883.8 913,823 913.9,797.3 914.9,787.1 915.9,780.8 916.8,777.2 917.8,778.4 918.7,771.9 919.7,769.5 920.6,766.9 921.6,765.9 922.5,762.9 923.5,763.1 924.5,763.5 925.4,759.4 926.4,760.7 927.3,757.1 928.3,758.3 929.2,756.6 930.2,756.3 931.2,759.2 932.1,758 933.1,753.3 934,757.1 935,754.4 935.9,753.1 936.9,750.8 937.9,753.5 938.8,752.2 939.8,748.8 940.7,750.4 941.7,748 942.6,750.8 943.6,747.4 944.6,748.2 945.5,745.3 946.5,747.7 947.4,747.5 948.4,747.5 949.3,747.7 950.3,745 951.3,747.2 952.2,745.9 953.2,744.5 954.1,742.3 955.1,745.3 956,745.2 957,741 957.9,741.9 958.9,743.5 959.9,744.9 960.8,743.5 961.8,744 962.7,744.4 963.7,742.9 964.6,742.4 965.6,740.4 966.6,738.9 967.5,742.5 968.5,742.5 969.4,742.4 970.4,742.4 971.3,739.3 972.3,740 973.3,741.9 974.2,740.3 975.2,740.3 976.1,739.6 977.1,738 978,737.3 979,737.2 980,738.7 980.9,737.2 981.9,735.8 982.8,735.8 983.8,737.9 984.7,735.9 985.7,739.4 986.7,737.4 987.6,737.3 988.6,737.2 989.5,736.4 990.5,734.5 991.4,737.7 992.4,737.3 993.3,735 994.3,736.7 995.3,736.5 996.2,734.6 997.2,739.4 998.1,737.1 999.1,735.2 1000,736.7 1001,737.6 1002,738.9 1002.9,735.8 1003.9,736.2 1004.8,738.7 1005.8,739.4 1006.7,736.6 1007.7,736.5 1008.7,735.4 1009.6,736.2 1010.6,739.3 1011.5,735.7 1012.5,737.6 1013.4,735.1 1014.4,735 1015.4,733.9 1016.3,736.3 1017.3,735.1 1018.2,734.8 1019.2,734.2 1020.1,734.4 1021.1,735.5 1022.1,734.3 1023,732.9 1024,734.2 1024.9,732.9 1025.9,734.5 1026.8,733.4 1027.8,736.2 1028.7,734.8 1029.7,735.2 1030.7,733.8 1031.6,735.3 1032.6,735.1 1033.5,737.4 1034.5,737.8 1035.4,741.1 1036.4,739.1 1037.4,739.6 1038.3,741.3 1039.3,739 1040.2,738.2 1041.2,737.9 1042.1,734.7 1043.1,739.2 1044.1,736.4 1045,737.1 1046,736.6 1046.9,735.7 1047.9,732.8 1048.8,732.5 1049.8,735.9 1050.8,734.8 1051.7,732.8 1052.7,731.9 1053.6,732 1054.6,733.7 1055.5,731.6 1056.5,732.8 1057.4,733 1058.4,730.7 1059.4,734.3 1060.3,731.3 1061.3,732.3 1062.2,732.5 1063.2,734.4 1064.1,734.7 1065.1,732.8 1066.1,733.6 1067,736.4 1068,736.2 1068.9,733.3 1069.9,737 1070.8,734.7 1071.8,736.8 1072.8,733.9 1073.7,736.1 1074.7,734.1 1075.6,735.1 1076.6,732.4 1077.5,736.3 1078.5,731 1079.5,732.1 1080.4,735.5 1081.4,734.8 1082.3,732.4 1083.3,729.9 1084.2,732.5 1085.2,734 1086.2,729.5 1087.1,732.6 1088.1,731.9 1089,728.7 1090,729.4 1090.9,727.7 1091.9,728 1092.8,732.2 1093.8,729 1094.8,728.2 1095.7,729.3 1096.7,728.2 1097.6,728.6 1098.6,729.5 1099.5,727.7 1100.5,728.7 1101.5,731 1102.4,729.3 1103.4,727.6 1104.3,728.9 1105.3,727.7 1106.2,731.8 1107.2,731.1 1108.2,730.7 1109.1,729.6 1110.1,731.9 1111,732.7 1112,729.6 1112.9,731.2 1113.9,732.9 1114.9,729 1115.8,734.3 1116.8,730.9 1117.7,730 1118.7,731.1 1119.6,732.8 1120.6,734.2 1121.6,732.3 1122.5,735.1 1123.5,731.1 1124.4,733.6 1125.4,734.5 1126.3,734.3 1127.3,731.7 1128.2,736.4 1129.2,733.3 1130.2,736.5 1131.1,736.1 1132.1,736.3 1133,734.2 1134,734.6 1134.9,736.6 1135.9,735.4 1136.9,734 1137.8,738.2 1138.8,736.4 1139.7,736.9 1140.7,734.9 1141.6,734.6 1142.6,734.9 1143.6,737.4 1144.5,734.8 1145.5,735.7 1146.4,737 1147.4,735.3 1148.3,740.1 1149.3,739 1150.3,737.1 1151.2,737.9 1152.2,736.6 1153.1,737.3 1154.1,738.8 1155,740.3 1156,740.6 1157,738.1 1157.9,742 1158.9,741.6 1159.8,742.4 1160.8,741.5 1161.7,737 1162.7,739.3 1163.6,738.5 1164.6,734.9 1165.6,738.2 1166.5,734.3 1167.5,736.7 1168.4,733.5 1169.4,732.5 1170.3,734.2 1171.3,731.8" fill="none" stroke="#0a0aff" stroke-width="3.0" stroke-linejoin="round" />
<path d="M806,708.7H823" stroke="#000" stroke-width="2.8"/>
<text x="824.2" y="712.3" font-size="10" fill="#222" >sulfanilamide 5µg/mL</text>
<path d="M806,721.7H823" stroke="#e81010" stroke-width="2.8"/>
<text x="824.2" y="725.3" font-size="10" fill="#222" >sulfamethoxazole 5µg/mL</text>
<path d="M806,734.6H823" stroke="#0a0aff" stroke-width="2.8"/>
<text x="824.2" y="738.2" font-size="10" fill="#222" >sulfadiazine 1µg/mL</text>
<path d="M1462.3,669.6v7.3M1462.3,994.1v-7.3M1530.1,669.6v7.3M1530.1,994.1v-7.3M1597.8,669.6v7.3M1597.8,994.1v-7.3M1665.6,669.6v7.3M1665.6,994.1v-7.3M1733.3,669.6v7.3M1733.3,994.1v-7.3M1801.1,669.6v7.3M1801.1,994.1v-7.3M1868.9,669.6v7.3M1868.9,994.1v-7.3" stroke="#000" stroke-width="2.2" fill="none"/>
<path d="M1496.2,669.6v3.4M1496.2,994.1v-3.4M1563.9,669.6v3.4M1563.9,994.1v-3.4M1631.7,669.6v3.4M1631.7,994.1v-3.4M1699.5,669.6v3.4M1699.5,994.1v-3.4M1767.2,669.6v3.4M1767.2,994.1v-3.4M1835,669.6v3.4M1835,994.1v-3.4" stroke="#000" stroke-width="2.2" fill="none"/>
<path d="M1428.5,948h7.8M1868.9,948h-7.8M1428.5,873.8h7.8M1868.9,873.8h-7.8M1428.5,799.7h7.8M1868.9,799.7h-7.8M1428.5,725.5h7.8M1868.9,725.5h-7.8" stroke="#000" stroke-width="2.2" fill="none"/>
<path d="M1428.5,985.1h3.9M1868.9,985.1h-3.9M1428.5,910.9h3.9M1868.9,910.9h-3.9M1428.5,836.8h3.9M1868.9,836.8h-3.9M1428.5,762.6h3.9M1868.9,762.6h-3.9M1428.5,688.4h3.9M1868.9,688.4h-3.9" stroke="#000" stroke-width="2.2" fill="none"/>
<rect x="1428.5" y="669.6" width="440.4" height="324.5" fill="none" stroke="#000" stroke-width="3"/>
<text x="1419" y="952.6" font-size="13.2" text-anchor="end" >0.0</text>
<text x="1419" y="878.4" font-size="13.2" text-anchor="end" >0.8</text>
<text x="1419" y="804.3" font-size="13.2" text-anchor="end" >1.6</text>
<text x="1419" y="730.1" font-size="13.2" text-anchor="end" >2.4</text>
<text x="1462.3" y="1014.4" font-size="13.3" text-anchor="middle" >0</text>
<text x="1530.1" y="1014.4" font-size="13.3" text-anchor="middle" >20</text>
<text x="1597.8" y="1014.4" font-size="13.3" text-anchor="middle" >40</text>
<text x="1665.6" y="1014.4" font-size="13.3" text-anchor="middle" >60</text>
<text x="1733.3" y="1014.4" font-size="13.3" text-anchor="middle" >80</text>
<text x="1801.1" y="1014.4" font-size="13.3" text-anchor="middle" >100</text>
<text x="1868.9" y="1014.4" font-size="13.3" text-anchor="middle" >120</text>
<text x="1648.4" y="1047.3" font-size="21.6" text-anchor="middle" >Time(s)</text>
<text transform="translate(1369.1,883.3) rotate(-90)" font-size="21.5">I<tspan font-size="15" dy="6">DS</tspan><tspan dy="-6">(nA)</tspan></text>
<polyline points="1462.3,920.6 1463,911.8 1463.7,906.2 1464.3,889.1 1465,900.8 1465.7,913.2 1466.4,907.5 1467,923.1 1467.7,913.9 1468.4,919.7 1469.1,908.4 1469.8,922.2 1470.4,916.9 1471.1,918.1 1471.8,914.8 1472.5,912.2 1473.1,904.2 1473.8,916.3 1474.5,928.5 1475.2,900.1 1475.9,907.1 1476.5,906.1 1477.2,922 1477.9,923.7 1478.6,913.4 1479.2,933.8 1479.9,912.3 1480.6,912.1 1481.3,916.6 1482,917.8 1482.6,912.5 1483.3,914.1 1484,904 1484.7,913.3 1485.3,911.1 1486,918.7 1486.7,911.3 1487.4,895.9 1488,914.4 1488.7,904.9 1489.4,900.1 1490.1,889 1490.8,898.4 1491.4,919 1492.1,893.2 1492.8,913.3 1493.5,909.9 1494.1,923.4 1494.8,921 1495.5,914.4 1496.2,918.5 1496.9,908.2 1497.5,922.2 1498.2,900.2 1498.9,905.3 1499.6,898.1 1500.2,914.7 1500.9,906.1 1501.6,902.3 1502.3,907.5 1503,907.1 1503.6,908.9 1504.3,909.6 1505,922.4 1505.7,911.4 1506.3,915.8 1507,923 1507.7,887.7 1508.4,884.3 1509.1,882.2 1509.7,875.5 1510.4,902.2 1511.1,891.9 1511.8,878.5 1512.4,880.4 1513.1,888.9 1513.8,906.8 1514.5,914.7 1515.2,906.3 1515.8,911.2 1516.5,904 1517.2,904.1 1517.9,912.7 1518.5,904.7 1519.2,907.8 1519.9,910.6 1520.6,912.7 1521.3,909.4 1521.9,908.3 1522.6,906.8 1523.3,909.8 1524,910.9 1524.6,916.3 1525.3,907.6 1526,913.9 1526.7,912.1 1527.3,908.2 1528,903.6 1528.7,917.3 1529.4,915.7 1530.1,915.5 1530.7,917.8 1531.4,905.9 1532.1,903.2 1532.8,914.8 1533.4,906.7 1534.1,907.7 1534.8,903.8 1535.5,903.9 1536.2,897.4 1536.8,909.3 1537.5,915 1538.2,905 1538.9,898.3 1539.5,904.7 1540.2,910.4 1540.9,912.7 1541.6,895.6 1542.3,890.3 1542.9,875.3 1543.6,893.1 1544.3,911.3 1545,901.8 1545.6,902.8 1546.3,918.4 1547,893.9 1547.7,899.7 1548.4,898.8 1549,898.9 1549.7,906.9 1550.4,898.4 1551.1,903.7 1551.7,898.7 1552.4,893.1 1553.1,895.7 1553.8,898.8 1554.5,891.9 1555.1,903 1555.8,896 1556.5,900.5 1557.2,906.7 1557.8,882.5 1558.5,900.2 1559.2,905.3 1559.9,890 1560.6,896.4 1561.2,894.9 1561.9,898.4 1562.6,900.5 1563.3,888.1 1563.9,892.5 1564.6,899 1565.3,890.7 1566,873.4 1566.7,900 1567.3,888.2 1568,901.8 1568.7,898.8 1569.4,886.6 1570,900.8 1570.7,892.7 1571.4,890.4 1572.1,890.5 1572.7,886.9 1573.4,895.7 1574.1,899.2 1574.8,877.7 1575.5,894.3 1576.1,884.4 1576.8,900 1577.5,893.8 1578.2,896.7 1578.8,895.3 1579.5,873.9 1580.2,880 1580.9,887.8 1581.6,887.6 1582.2,893.4 1582.9,899 1583.6,900.2 1584.3,895.7 1584.9,901.6 1585.6,915.9 1586.3,903.8 1587,901.2 1587.7,910 1588.3,906.3 1589,905.4 1589.7,903.3 1590.4,914 1591,916.9 1591.7,913 1592.4,913 1593.1,909.8 1593.8,914.3 1594.4,904.5 1595.1,913.1 1595.8,911.6 1596.5,912.9 1597.1,906.1 1597.8,911.3 1598.5,913.6 1599.2,917.2 1599.9,902.4 1600.5,910 1601.2,901.5 1601.9,915.5 1602.6,917 1603.2,900.4 1603.9,910.4 1604.6,921.3 1605.3,903 1606,912 1606.6,916.2 1607.3,913.6 1608,901.6 1608.7,909.7 1609.3,913 1610,909.3 1610.7,904.9 1611.4,916.7 1612,911.6 1612.7,905.8 1613.4,914.4 1614.1,910.6 1614.8,910.4 1615.4,902.7 1616.1,915.3 1616.8,916.3 1617.5,902 1618.1,916.8 1618.8,917.6 1619.5,908.9 1620.2,908.1 1620.9,909.1 1621.5,916.8 1622.2,917.6 1622.9,927.4 1623.6,921.8 1624.2,907.2 1624.9,921.1 1625.6,918.8 1626.3,899.9 1627,902.1 1627.6,902.8 1628.3,898.9 1629,891.5 1629.7,874.2 1630.3,882 1631,869.5 1631.7,835.5 1632.4,876.2 1633.1,859.2 1633.7,827.5 1634.4,820.1 1635.1,858.3 1635.8,839.1 1636.4,858.8 1637.1,866.2 1637.8,862.1 1638.5,844.8 1639.2,831.7 1639.8,876.7 1640.5,835.7 1641.2,861.2 1641.9,841.8 1642.5,870.1 1643.2,873.4 1643.9,829.7 1644.6,829.7 1645.3,852.1 1645.9,869.3 1646.6,838 1647.3,865.1 1648,827.7 1648.6,833.4 1649.3,807.7 1650,903.2 1650.7,857.9 1651.4,845.3 1652,856.3 1652.7,915.7 1653.4,864.4 1654.1,824.1 1654.7,841.1 1655.4,844.1 1656.1,829.2 1656.8,833.7 1657.4,881.3 1658.1,836.8 1658.8,847.1 1659.5,830.6 1660.2,868.2 1660.8,843.8 1661.5,875.7 1662.2,853.7 1662.9,895.4 1663.5,842.2 1664.2,851.4 1664.9,853.9 1665.6,876 1666.3,833.8 1666.9,855.9 1667.6,877 1668.3,873.4 1669,854.5 1669.6,831.6 1670.3,834.8 1671,877.1 1671.7,853.4 1672.4,874.2 1673,887.6 1673.7,865.6 1674.4,871.3 1675.1,853.1 1675.7,845.6 1676.4,851.2 1677.1,860.9 1677.8,887.7 1678.5,882.1 1679.1,889.7 1679.8,851.5 1680.5,847.6 1681.2,842 1681.8,843.9 1682.5,837.7 1683.2,876 1683.9,841.7 1684.6,875.8 1685.2,888.1 1685.9,869.7 1686.6,861.2 1687.3,868.4 1687.9,842.8 1688.6,872 1689.3,838 1690,849 1690.7,840 1691.3,844.2 1692,840.2 1692.7,859.8 1693.4,857.4 1694,872.7 1694.7,879.2 1695.4,856.1 1696.1,829.7 1696.7,874.3 1697.4,848.7 1698.1,871 1698.8,867.3 1699.5,880.8 1700.1,871.5 1700.8,848.8 1701.5,841 1702.2,867.3 1702.8,864.2 1703.5,885.1 1704.2,850.7 1704.9,862.5 1705.6,849.8 1706.2,865.7 1706.9,859.8 1707.6,884.5 1708.3,848 1708.9,861 1709.6,892.7 1710.3,836.3 1711,882.6 1711.7,859.6 1712.3,853.5 1713,882.7 1713.7,839.7 1714.4,853.9 1715,878.1 1715.7,856.5 1716.4,833.4 1717.1,846.8 1717.8,867.9 1718.4,835.8 1719.1,831.2 1719.8,859.6 1720.5,826.8 1721.1,862.8 1721.8,812.2 1722.5,867.8 1723.2,870.7 1723.9,850.5 1724.5,870 1725.2,829.3 1725.9,855 1726.6,863.2 1727.2,843.5 1727.9,852.4 1728.6,867.6 1729.3,840.9 1730,870.8 1730.6,868.8 1731.3,854.6 1732,832.2 1732.7,871.6 1733.3,840.8 1734,861.5 1734.7,830.7 1735.4,826.9 1736.1,829.1 1736.7,861.9 1737.4,836.5 1738.1,824.3 1738.8,838.2 1739.4,859.7 1740.1,882.6 1740.8,823.9 1741.5,872.8 1742.1,847.6 1742.8,840.7 1743.5,856.3 1744.2,840.9 1744.9,835.8 1745.5,841.9 1746.2,830.9 1746.9,835.3 1747.6,833.6 1748.2,871.1 1748.9,834 1749.6,866.8 1750.3,838.7 1751,859.7 1751.6,838.7 1752.3,827.4 1753,829.7 1753.7,842.8 1754.3,859.4 1755,876.1 1755.7,825.7 1756.4,825.9 1757.1,823.6 1757.7,836.6 1758.4,828.7 1759.1,847.3 1759.8,862 1760.4,866.6 1761.1,875.1 1761.8,870.3 1762.5,832 1763.2,854.2 1763.8,827.7 1764.5,874.2 1765.2,859.1 1765.9,841.4 1766.5,830.4 1767.2,888.8 1767.9,852.5 1768.6,874.7 1769.3,850 1769.9,866.2 1770.6,822.2 1771.3,832.4 1772,837.8 1772.6,835.2 1773.3,837.9 1774,858.9 1774.7,832.7 1775.4,860 1776,850.4 1776.7,814.2 1777.4,867.7 1778.1,813.2 1778.7,860 1779.4,846 1780.1,837.9 1780.8,837.4 1781.4,860.7 1782.1,834.8 1782.8,835.8 1783.5,812 1784.2,842.3 1784.8,827.9 1785.5,818 1786.2,820 1786.9,835.8 1787.5,862 1788.2,837.7 1788.9,861.4 1789.6,812 1790.3,841.8 1790.9,833.1 1791.6,841.3 1792.3,859.3 1793,778.4 1793.6,799.4 1794.3,835.4 1795,869.4 1795.7,876.8 1796.4,851.2 1797,808.8 1797.7,884.1 1798.4,868.4 1799.1,815.8 1799.7,851.7 1800.4,834.3 1801.1,826.6 1801.8,819.6 1802.5,808.1 1803.1,810.5 1803.8,819.1 1804.5,846.8 1805.2,818.8 1805.8,836.1 1806.5,857.3 1807.2,849.2 1807.9,844.7 1808.6,806.5 1809.2,826.3 1809.9,857.9 1810.6,853.1 1811.3,845.6 1811.9,854.2 1812.6,856.4 1813.3,826.7 1814,856.4 1814.7,854.5" fill="none" stroke="#000" stroke-width="2.2" stroke-linejoin="round" />
<path d="M1626.3,964.1V923.5M1617.8,938L1626.3,923.5L1634.8,938" stroke="#ff0000" stroke-width="3.2" fill="none"/>
<text x="1668.5" y="959.2" font-size="38" fill="#ff0000" letter-spacing="1.5">10pg•mL</text>
</svg>
<div class="t c" style="left:79px;top:32.3px;font-size:75px;color:#c00000;letter-spacing:-1px">应用一</div>
<div class="t c" style="left:302px;top:38.6px;font-size:68px;color:#002060;">：</div>
<div class="t" style="left:366px;top:40px;font-size:70px;color:#002060;letter-spacing:1.6px">SiNW</div>
<div class="t c" style="left:551.3px;top:38.6px;font-size:68px;color:#002060;letter-spacing:-2.3px">生物传感器对磺胺药物残留的检测</div>
<div style="position:absolute;left:66px;top:165px;width:29px;height:27px;background:#c00000"></div>
<div class="t c" style="left:117px;top:152.5px;font-size:51px;color:#c00000;letter-spacing:-1.1px">抗原-抗体疾病检测</div>
<div class="t c r" style="left:789px;top:637.5px;font-size:31px">◆</div>
<div class="t c r" style="left:831.8px;top:634.5px;font-size:38px;letter-spacing:-0.95px">不同浓度下的梯度响应</div>
<div class="t c r" style="left:1556.5px;top:626.4px;font-size:31px">◆</div>
<div class="t c r" style="left:1598.6px;top:622.4px;font-size:38px;letter-spacing:-0.7px">线性结果</div>
<div class="t c r" style="left:864px;top:1056.8px;font-size:31px">◆</div>
<div class="t c r" style="left:906.3px;top:1053px;font-size:38px;letter-spacing:-0.7px">良好的特异性</div>
<div class="t c r" style="left:1508px;top:1064.7px;font-size:31px">◆</div>
<div class="t c r" style="left:1550px;top:1060.7px;font-size:38px;letter-spacing:-0.7px">检测限低至<span style="font-family:'Liberation Sans',sans-serif;font-size:40px;letter-spacing:0.6px">10pg/mL</span></div>
</body></html>
